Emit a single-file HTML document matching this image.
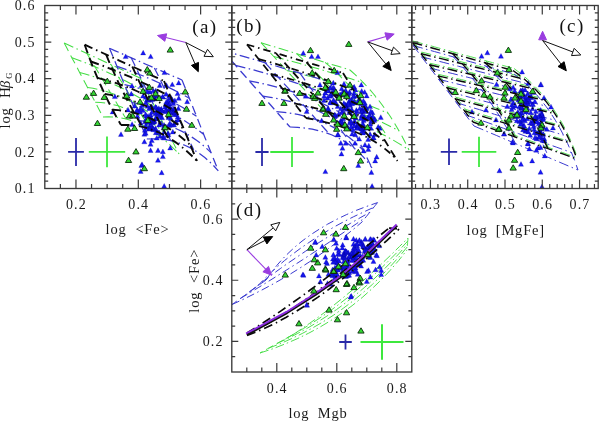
<!DOCTYPE html>
<html><head><meta charset="utf-8"><style>html,body{margin:0;padding:0;background:#fff;overflow:hidden}svg{display:block;filter:blur(0.35px)}</style></head>
<body>
<svg width="600" height="421" viewBox="0 0 600 421">
<defs>
<clipPath id="clipa"><rect x="44.8" y="5.5" width="187.00" height="183.00"/></clipPath>
<clipPath id="clipb"><rect x="231.8" y="5.5" width="180.00" height="183.00"/></clipPath>
<clipPath id="clipc"><rect x="411.8" y="5.5" width="186.40" height="183.00"/></clipPath>
<clipPath id="clipd"><rect x="231.8" y="188.5" width="180.00" height="183.50"/></clipPath>
</defs>
<rect width="600" height="421" fill="#fff"/>
<path d="M64.2 43.0L69.6 45.5L75.0 48.0L80.4 50.5L85.9 53.0L91.3 55.5L96.7 58.0L102.1 60.5L107.5 63.0L112.9 65.5L118.3 68.0L123.8 70.5L129.2 73.0L134.6 75.5L140.0 78.0M72.0 57.8L77.4 59.8L82.8 61.8L88.3 63.9L93.7 66.2L99.1 68.5L104.6 70.9L110.0 73.4L115.4 75.9L120.8 78.6L126.2 81.3L131.6 84.2L137.0 87.1L142.4 90.1L147.8 93.2M79.7 72.6L85.2 74.0L90.7 75.6L96.1 77.4L101.6 79.3L107.0 81.4L112.4 83.7L117.9 86.2L123.3 88.8L128.7 91.7L134.1 94.7L139.5 97.8L144.9 101.2L150.2 104.7L155.6 108.4M87.5 87.4L93.0 88.3L98.5 89.4L104.0 90.8L109.4 92.5L114.9 94.4L120.3 96.6L125.7 99.1L131.2 101.8L136.6 104.7L142.0 108.0L147.3 111.5L152.7 115.3L158.1 119.3L163.4 123.6M95.2 102.2L100.8 102.5L106.3 103.2L111.8 104.3L117.3 105.6L122.7 107.4L128.2 109.5L133.6 111.9L139.0 114.7L144.4 117.8L149.8 121.3L155.2 125.2L160.5 129.4L165.9 133.9L171.2 138.8M103.0 117.0L108.6 116.8L114.1 117.0L119.6 117.7L125.1 118.8L130.6 120.3L136.1 122.3L141.5 124.8L146.9 127.6L152.3 130.9L157.7 134.7L163.1 138.8L168.4 143.4L173.7 148.5L179.0 154.0" stroke="#44dd44" stroke-width="1.05" stroke-dasharray="10 3.5 1.5 3.5" fill="none" clip-path="url(#clipa)"/>
<path d="M64.2 43.0L67.0 48.3L69.7 53.6L72.5 58.9L75.3 64.1L78.1 69.4L80.8 74.7L83.6 80.0L86.4 85.3L89.1 90.6L91.9 95.9L94.7 101.1L97.5 106.4L100.2 111.7L103.0 117.0M86.9 53.5L89.7 58.2L92.6 62.9L95.4 67.6L98.2 72.2L101.0 76.9L103.8 81.6L106.6 86.3L109.4 91.0L112.2 95.7L115.0 100.3L117.8 105.0L120.6 109.7L123.4 114.4L126.2 119.1M111.2 64.7L114.0 69.4L116.8 74.0L119.6 78.7L122.5 83.3L125.3 88.0L128.1 92.6L130.9 97.3L133.7 101.9L136.5 106.6L139.3 111.2L142.1 115.9L145.0 120.5L147.8 125.2L150.6 129.8M140.0 78.0L142.8 83.4L145.6 88.9L148.4 94.3L151.1 99.7L153.9 105.1L156.7 110.6L159.5 116.0L162.3 121.4L165.1 126.9L167.9 132.3L170.6 137.7L173.4 143.1L176.2 148.6L179.0 154.0" stroke="#44dd44" stroke-width="1.05" stroke-dasharray="9 5" fill="none" clip-path="url(#clipa)"/>
<path d="M109.5 48.3L114.7 50.6L119.9 52.8L125.0 55.1L130.2 57.4L135.4 59.6L140.6 61.9L145.8 64.2L150.9 66.4L156.1 68.7L161.3 70.9L166.5 73.2L171.6 75.5L176.8 77.7L182.0 80.0M117.0 66.4L122.3 68.2L127.6 70.0L132.8 72.0L138.1 74.0L143.3 76.0L148.5 78.2L153.7 80.4L158.8 82.7L163.9 85.1L169.1 87.6L174.1 90.1L179.2 92.7L184.2 95.4L189.3 98.2M124.5 84.6L129.9 85.8L135.3 87.3L140.7 88.8L146.0 90.6L151.2 92.4L156.4 94.5L161.6 96.7L166.7 99.0L171.8 101.5L176.8 104.2L181.8 107.0L186.8 109.9L191.7 113.1L196.5 116.3M132.0 102.7L137.6 103.5L143.0 104.5L148.5 105.7L153.8 107.2L159.1 108.9L164.3 110.8L169.5 112.9L174.6 115.3L179.6 117.9L184.6 120.8L189.5 123.9L194.3 127.2L199.1 130.7L203.8 134.5M139.5 120.9L145.2 121.1L150.8 121.7L156.3 122.6L161.7 123.8L167.0 125.3L172.3 127.1L177.4 129.2L182.5 131.6L187.5 134.3L192.3 137.4L197.2 140.7L201.9 144.4L206.5 148.4L211.0 152.6M147.0 139.0L152.8 138.8L158.5 138.9L164.1 139.5L169.6 140.4L174.9 141.7L180.2 143.4L185.3 145.5L190.4 147.9L195.3 150.8L200.1 154.0L204.8 157.6L209.4 161.6L213.9 166.0L218.3 170.8" stroke="#3a3ad0" stroke-width="1.25" stroke-dasharray="10 3.5 1.5 3.5" fill="none" clip-path="url(#clipa)"/>
<path d="M109.5 48.3L112.2 54.8L114.9 61.3L117.5 67.7L120.2 74.2L122.9 80.7L125.6 87.2L128.2 93.7L130.9 100.1L133.6 106.6L136.3 113.1L139.0 119.6L141.6 126.0L144.3 132.5L147.0 139.0M131.2 57.8L134.1 63.7L136.9 69.6L139.7 75.6L142.5 81.5L145.3 87.4L148.1 93.3L150.9 99.2L153.8 105.1L156.6 111.0L159.4 116.9L162.2 122.9L165.0 128.8L167.8 134.7L170.6 140.6M154.4 68.0L157.3 73.8L160.1 79.6L162.9 85.5L165.7 91.3L168.5 97.2L171.3 103.0L174.1 108.9L176.9 114.7L179.7 120.6L182.5 126.4L185.3 132.3L188.1 138.1L190.9 144.0L193.7 149.8M182.0 80.0L184.6 86.5L187.2 93.0L189.8 99.5L192.4 105.9L195.0 112.4L197.6 118.9L200.1 125.4L202.7 131.9L205.3 138.4L207.9 144.9L210.5 151.3L213.1 157.8L215.7 164.3L218.3 170.8" stroke="#3a3ad0" stroke-width="1.25" stroke-dasharray="9 5" fill="none" clip-path="url(#clipa)"/>
<path d="M125.7 53.9l2.5 4.7h-5.1zM143.2 50.2l2.5 4.7h-5.1zM150.7 53.9l2.5 4.7h-5.1zM164.5 69.9l2.5 4.7h-5.1zM178.7 80.2l2.5 4.7h-5.1zM172.3 81.9l2.5 4.7h-5.1zM166.5 82.7l2.5 4.7h-5.1zM159.8 82.7l2.5 4.7h-5.1zM132.0 83.2l2.5 4.7h-5.1zM141.5 82.7l2.5 4.7h-5.1zM114.9 93.9l2.5 4.7h-5.1zM112.7 109.2l2.5 4.7h-5.1zM128.0 107.2l2.5 4.7h-5.1zM134.7 103.2l2.5 4.7h-5.1zM131.3 91.2l2.5 4.7h-5.1zM177.6 90.9l2.5 4.7h-5.1zM178.8 95.6l2.5 4.7h-5.1zM121.0 131.7l2.5 4.7h-5.1zM144.4 139.1l2.5 4.7h-5.1zM150.6 141.6l2.5 4.7h-5.1zM156.8 135.4l2.5 4.7h-5.1zM164.2 135.4l2.5 4.7h-5.1zM150.6 147.8l2.5 4.7h-5.1zM158.0 147.8l2.5 4.7h-5.1zM162.9 149.0l2.5 4.7h-5.1zM170.3 145.3l2.5 4.7h-5.1zM162.9 153.9l2.5 4.7h-5.1zM158.0 157.6l2.5 4.7h-5.1zM142.0 161.8l2.5 4.7h-5.1zM140.7 168.7l2.5 4.7h-5.1zM161.7 170.0l2.5 4.7h-5.1zM164.2 183.5l2.5 4.7h-5.1zM151.8 137.9l2.5 4.7h-5.1zM145.7 130.5l2.5 4.7h-5.1zM164.2 129.2l2.5 4.7h-5.1zM172.8 129.2l2.5 4.7h-5.1zM141.4 162.9l2.5 4.7h-5.1zM162.9 94.4l2.5 4.7h-5.1zM156.8 108.0l2.5 4.7h-5.1zM169.9 120.6l2.5 4.7h-5.1zM169.4 101.2l2.5 4.7h-5.1zM160.6 121.2l2.5 4.7h-5.1zM140.8 120.5l2.5 4.7h-5.1zM172.2 97.0l2.5 4.7h-5.1zM145.6 111.7l2.5 4.7h-5.1zM155.5 111.1l2.5 4.7h-5.1zM142.2 102.7l2.5 4.7h-5.1zM146.4 113.3l2.5 4.7h-5.1zM172.0 106.7l2.5 4.7h-5.1zM156.8 93.4l2.5 4.7h-5.1zM140.0 109.3l2.5 4.7h-5.1zM170.9 115.8l2.5 4.7h-5.1zM173.0 98.9l2.5 4.7h-5.1zM174.2 112.0l2.5 4.7h-5.1zM152.4 117.6l2.5 4.7h-5.1zM160.1 114.1l2.5 4.7h-5.1zM167.5 101.0l2.5 4.7h-5.1zM146.6 118.2l2.5 4.7h-5.1zM169.4 114.5l2.5 4.7h-5.1zM151.9 109.6l2.5 4.7h-5.1zM164.2 122.6l2.5 4.7h-5.1zM156.5 105.0l2.5 4.7h-5.1zM147.7 89.0l2.5 4.7h-5.1zM144.9 127.5l2.5 4.7h-5.1zM178.4 105.8l2.5 4.7h-5.1zM147.0 97.1l2.5 4.7h-5.1zM168.3 132.0l2.5 4.7h-5.1zM169.1 107.2l2.5 4.7h-5.1zM166.1 91.6l2.5 4.7h-5.1zM168.1 130.4l2.5 4.7h-5.1zM160.1 106.9l2.5 4.7h-5.1zM150.2 116.5l2.5 4.7h-5.1zM175.6 119.7l2.5 4.7h-5.1zM177.8 114.2l2.5 4.7h-5.1zM170.2 105.5l2.5 4.7h-5.1zM158.8 105.7l2.5 4.7h-5.1zM154.3 95.3l2.5 4.7h-5.1zM157.9 109.4l2.5 4.7h-5.1zM149.3 105.7l2.5 4.7h-5.1zM162.1 115.1l2.5 4.7h-5.1zM161.4 106.3l2.5 4.7h-5.1zM147.5 119.7l2.5 4.7h-5.1zM178.0 117.3l2.5 4.7h-5.1zM176.0 119.2l2.5 4.7h-5.1zM155.9 130.0l2.5 4.7h-5.1zM155.8 88.2l2.5 4.7h-5.1zM162.4 94.3l2.5 4.7h-5.1zM145.8 122.8l2.5 4.7h-5.1zM143.0 93.4l2.5 4.7h-5.1zM145.6 117.5l2.5 4.7h-5.1zM140.6 105.8l2.5 4.7h-5.1zM165.1 104.4l2.5 4.7h-5.1zM150.7 112.2l2.5 4.7h-5.1zM137.5 113.5l2.5 4.7h-5.1zM148.4 97.4l2.5 4.7h-5.1zM152.2 96.8l2.5 4.7h-5.1zM168.7 122.7l2.5 4.7h-5.1zM149.2 126.4l2.5 4.7h-5.1zM149.4 125.5l2.5 4.7h-5.1zM165.7 109.0l2.5 4.7h-5.1zM169.7 105.6l2.5 4.7h-5.1zM150.6 121.8l2.5 4.7h-5.1zM155.6 115.5l2.5 4.7h-5.1zM154.0 119.3l2.5 4.7h-5.1zM136.9 108.9l2.5 4.7h-5.1zM158.2 129.9l2.5 4.7h-5.1zM160.1 133.5l2.5 4.7h-5.1zM165.5 102.1l2.5 4.7h-5.1zM153.7 94.0l2.5 4.7h-5.1zM166.0 107.0l2.5 4.7h-5.1zM150.1 105.4l2.5 4.7h-5.1zM150.5 123.3l2.5 4.7h-5.1zM149.0 97.5l2.5 4.7h-5.1zM146.4 124.7l2.5 4.7h-5.1zM150.2 113.8l2.5 4.7h-5.1zM159.2 130.1l2.5 4.7h-5.1zM143.0 107.7l2.5 4.7h-5.1zM145.8 100.0l2.5 4.7h-5.1zM171.8 122.4l2.5 4.7h-5.1zM171.2 95.4l2.5 4.7h-5.1zM176.5 111.9l2.5 4.7h-5.1zM167.7 132.5l2.5 4.7h-5.1zM152.7 125.1l2.5 4.7h-5.1zM170.0 110.1l2.5 4.7h-5.1zM168.2 98.1l2.5 4.7h-5.1zM147.5 103.6l2.5 4.7h-5.1zM174.2 108.4l2.5 4.7h-5.1zM145.2 119.0l2.5 4.7h-5.1zM175.9 120.0l2.5 4.7h-5.1zM154.4 118.2l2.5 4.7h-5.1zM166.2 99.6l2.5 4.7h-5.1zM154.9 96.4l2.5 4.7h-5.1zM137.1 107.0l2.5 4.7h-5.1zM174.2 106.2l2.5 4.7h-5.1zM173.3 100.7l2.5 4.7h-5.1zM155.6 127.1l2.5 4.7h-5.1zM155.9 88.7l2.5 4.7h-5.1zM174.9 97.9l2.5 4.7h-5.1zM153.3 125.8l2.5 4.7h-5.1zM163.3 133.7l2.5 4.7h-5.1zM169.2 93.6l2.5 4.7h-5.1zM148.1 113.5l2.5 4.7h-5.1zM174.1 122.4l2.5 4.7h-5.1zM161.7 108.2l2.5 4.7h-5.1zM170.0 109.3l2.5 4.7h-5.1zM149.2 95.9l2.5 4.7h-5.1zM158.3 110.8l2.5 4.7h-5.1zM187.2 99.0l2.5 4.7h-5.1zM165.7 107.9l2.5 4.7h-5.1zM163.6 125.1l2.5 4.7h-5.1zM174.9 110.1l2.5 4.7h-5.1zM153.3 88.1l2.5 4.7h-5.1zM159.1 122.4l2.5 4.7h-5.1zM156.8 114.9l2.5 4.7h-5.1zM168.5 114.9l2.5 4.7h-5.1zM173.0 110.0l2.5 4.7h-5.1zM150.0 89.4l2.5 4.7h-5.1zM171.1 106.3l2.5 4.7h-5.1zM156.3 116.3l2.5 4.7h-5.1zM150.5 126.1l2.5 4.7h-5.1zM168.0 103.2l2.5 4.7h-5.1zM152.4 118.1l2.5 4.7h-5.1zM145.8 94.6l2.5 4.7h-5.1zM160.1 109.7l2.5 4.7h-5.1zM160.2 112.0l2.5 4.7h-5.1zM155.6 104.3l2.5 4.7h-5.1zM175.2 120.1l2.5 4.7h-5.1zM144.4 131.5l2.5 4.7h-5.1zM132.1 121.7l2.5 4.7h-5.1zM153.3 127.0l2.5 4.7h-5.1zM148.9 118.9l2.5 4.7h-5.1zM152.7 120.0l2.5 4.7h-5.1zM151.8 104.0l2.5 4.7h-5.1zM151.1 116.4l2.5 4.7h-5.1zM155.5 125.7l2.5 4.7h-5.1zM153.8 118.8l2.5 4.7h-5.1zM151.5 119.1l2.5 4.7h-5.1z" fill="#1818f4" stroke="#0000a0" stroke-width="0.25" clip-path="url(#clipa)"/>
<path d="M84.7 44.7L90.4 47.3L96.0 49.9L101.7 52.5L107.4 55.1L113.0 57.7L118.7 60.3L124.3 62.9L130.0 65.4L135.7 68.0L141.3 70.6L147.0 73.2L152.7 75.8L158.3 78.4L164.0 81.0M90.8 61.5L96.5 63.5L102.3 65.6L108.0 67.8L113.7 70.0L119.5 72.3L125.2 74.8L130.9 77.2L136.6 79.8L142.3 82.5L148.0 85.2L153.6 88.0L159.3 90.9L165.0 93.9L170.6 97.0M97.4 77.9L103.2 79.4L109.0 81.0L114.8 82.7L120.6 84.7L126.3 86.8L132.0 89.0L137.7 91.5L143.4 94.0L149.1 96.8L154.7 99.7L160.4 102.8L166.0 106.0L171.6 109.4L177.2 113.0M104.7 94.0L110.5 94.9L116.3 96.0L122.1 97.4L127.8 99.1L133.5 101.0L139.2 103.1L144.9 105.5L150.5 108.1L156.1 111.0L161.7 114.1L167.3 117.5L172.8 121.1L178.3 124.9L183.8 129.0M112.6 109.7L118.3 110.1L124.1 110.8L129.8 111.9L135.5 113.2L141.1 114.9L146.7 117.0L152.3 119.3L157.8 122.0L163.3 125.0L168.8 128.4L174.3 132.0L179.7 136.0L185.1 140.4L190.4 145.0M121.0 125.0L126.7 124.9L132.3 125.2L138.0 126.0L143.5 127.1L149.1 128.7L154.6 130.6L160.0 133.0L165.4 135.8L170.8 139.0L176.1 142.6L181.4 146.6L186.6 151.0L191.8 155.8L197.0 161.0" stroke="#0a0a0a" stroke-width="1.9" stroke-dasharray="8.5 4 1.5 4" fill="none" clip-path="url(#clipa)"/>
<path d="M84.7 44.7L86.8 50.7L89.0 56.7L91.2 62.7L93.6 68.6L96.0 74.4L98.4 80.2L101.0 86.0L103.6 91.7L106.3 97.4L109.1 103.0L112.0 108.6L114.9 114.1L117.9 119.6L121.0 125.0M106.1 54.5L108.3 59.9L110.6 65.2L113.0 70.6L115.4 75.9L117.8 81.1L120.3 86.3L122.9 91.5L125.5 96.7L128.1 101.8L130.9 106.9L133.6 111.9L136.5 116.9L139.4 121.9L142.3 126.8M132.3 66.5L134.6 71.6L137.0 76.8L139.3 81.9L141.8 87.0L144.2 92.1L146.7 97.2L149.2 102.2L151.7 107.2L154.3 112.2L156.9 117.2L159.5 122.2L162.2 127.2L164.8 132.1L167.6 137.0M164.0 81.0L166.4 86.7L168.7 92.4L171.1 98.1L173.4 103.9L175.8 109.6L178.1 115.3L180.5 121.0L182.9 126.7L185.2 132.4L187.6 138.1L189.9 143.9L192.3 149.6L194.6 155.3L197.0 161.0" stroke="#0a0a0a" stroke-width="1.9" stroke-dasharray="9 5" fill="none" clip-path="url(#clipa)"/>
<path d="M170.3 46.8l3.1 5.3h-6.3zM147.3 66.5l3.1 5.3h-6.3zM149.8 69.8l3.1 5.3h-6.3zM107.3 78.1l3.1 5.3h-6.3zM149.3 84.1l3.1 5.3h-6.3zM143.1 88.1l3.1 5.3h-6.3zM93.6 90.1l3.1 5.3h-6.3zM155.6 90.5l3.1 5.3h-6.3zM86.4 93.9l3.1 5.3h-6.3zM104.3 94.1l3.1 5.3h-6.3zM126.7 92.8l3.1 5.3h-6.3zM151.4 94.6l3.1 5.3h-6.3zM159.1 95.2l3.1 5.3h-6.3zM140.1 98.8l3.1 5.3h-6.3zM185.3 88.7l3.1 5.3h-6.3zM186.5 105.9l3.1 5.3h-6.3zM168.6 111.3l3.1 5.3h-6.3zM129.5 112.8l3.1 5.3h-6.3zM132.7 112.8l3.1 5.3h-6.3zM147.8 117.2l3.1 5.3h-6.3zM97.5 120.2l3.1 5.3h-6.3zM191.8 122.0l3.1 5.3h-6.3zM165.1 124.4l3.1 5.3h-6.3zM134.6 125.2l3.1 5.3h-6.3zM127.9 125.9l3.1 5.3h-6.3zM136.0 148.6l3.1 5.3h-6.3zM128.6 157.2l3.1 5.3h-6.3zM144.4 165.4l3.1 5.3h-6.3z" fill="#33d633" stroke="#0b2a0b" stroke-width="0.9" stroke-linejoin="miter" clip-path="url(#clipa)"/>
<path d="M68.1 151.9h15.8M76.0 137.9v28.0" stroke="#2a2aa8" stroke-width="1.8" fill="none"/>
<path d="M88.8 151.9h36.4M107.0 136.6v30.6" stroke="#3ee83e" stroke-width="1.8" fill="none"/>
<path d="M185.8 42.5L165.8 37.5" stroke="#9a3de0" stroke-width="1.1"/>
<path d="M157.5 35.5L166.7 33.8L164.8 41.3z" fill="#9a3de0" stroke="#9a3de0" stroke-width="1"/>
<path d="M185.8 42.5L205.7 52.8" stroke="#111" stroke-width="1"/>
<path d="M213.3 56.7L204.0 56.3L207.5 49.3z" fill="#fff" stroke="#111" stroke-width="1"/>
<path d="M185.8 42.5L195.0 63.9" stroke="#111" stroke-width="1"/>
<path d="M198.3 71.7L191.4 65.4L198.5 62.4z" fill="#000" stroke="#000" stroke-width="1"/>
<path d="M261.0 42.7L267.4 44.7L273.7 46.6L280.1 48.6L286.4 50.5L292.8 52.4L299.1 54.4L305.5 56.4L311.9 58.3L318.2 60.2L324.6 62.2L330.9 64.2L337.3 66.1L343.6 68.0L350.0 70.0M273.8 56.6L280.3 58.3L286.9 60.0L293.4 61.8L299.9 63.6L306.3 65.4L312.8 67.2L319.2 69.1L325.6 71.0L332.0 72.9L338.3 74.8L344.7 76.8L351.0 78.8L357.3 80.8L363.6 82.8M286.6 70.4L293.3 72.0L299.9 73.7L306.5 75.4L313.0 77.1L319.5 78.9L326.0 80.7L332.4 82.6L338.8 84.5L345.1 86.5L351.4 88.6L357.7 90.7L363.9 92.8L370.1 95.0L376.2 97.2M299.4 84.3L306.1 85.9L312.8 87.5L319.4 89.3L326.0 91.1L332.4 93.0L338.9 94.9L345.2 96.9L351.5 99.0L357.8 101.2L363.9 103.5L370.1 105.8L376.1 108.2L382.1 110.7L388.0 113.2M312.2 98.1L318.9 99.8L325.6 101.6L332.1 103.5L338.6 105.5L345.0 107.6L351.3 109.8L357.6 112.1L363.7 114.5L369.8 116.9L375.8 119.5L381.7 122.2L387.5 125.0L393.3 127.8L399.0 130.8M325.0 112.0L331.7 113.9L338.2 116.0L344.7 118.1L351.0 120.4L357.3 122.8L363.4 125.3L369.5 128.0L375.4 130.8L381.3 133.7L387.0 136.7L392.7 139.8L398.2 143.1L403.7 146.5L409.0 150.0" stroke="#44dd44" stroke-width="1.05" stroke-dasharray="10 3.5 1.5 3.5" fill="none" clip-path="url(#clipb)"/>
<path d="M261.0 42.7L265.6 47.7L270.1 52.6L274.7 57.5L279.3 62.5L283.9 67.5L288.4 72.4L293.0 77.3L297.6 82.3L302.1 87.2L306.7 92.2L311.3 97.2L315.9 102.1L320.4 107.0L325.0 112.0M296.6 53.6L301.5 58.1L306.3 62.7L311.1 67.4L315.9 72.2L320.6 77.0L325.3 82.0L329.9 87.0L334.5 92.1L339.0 97.2L343.5 102.5L347.9 107.8L352.3 113.2L356.7 118.7L361.0 124.3M325.1 62.4L330.1 66.7L335.0 71.2L339.8 75.9L344.5 80.7L349.2 85.7L353.8 90.8L358.3 96.0L362.7 101.4L367.0 107.0L371.3 112.7L375.5 118.5L379.5 124.5L383.6 130.7L387.5 136.9M350.0 70.0L354.9 74.4L359.8 79.0L364.5 83.8L369.1 88.8L373.6 94.0L378.0 99.4L382.2 105.0L386.4 110.8L390.5 116.8L394.4 123.1L398.2 129.5L401.9 136.1L405.5 143.0L409.0 150.0" stroke="#44dd44" stroke-width="1.05" stroke-dasharray="9 5" fill="none" clip-path="url(#clipb)"/>
<path d="M222.0 50.0L229.7 52.3L237.4 54.6L245.1 56.9L252.9 59.1L260.6 61.4L268.3 63.7L276.0 66.0L283.7 68.3L291.4 70.6L299.1 72.9L306.9 75.1L314.6 77.4L322.3 79.7L330.0 82.0M235.6 65.4L243.3 67.3L251.0 69.3L258.6 71.3L266.1 73.5L273.6 75.7L281.0 78.0L288.4 80.4L295.7 82.8L303.0 85.3L310.2 88.0L317.3 90.6L324.4 93.4L331.4 96.3L338.4 99.2M249.2 80.8L256.9 82.3L264.5 84.0L272.0 85.8L279.4 87.8L286.6 89.9L293.8 92.2L300.8 94.7L307.7 97.3L314.5 100.1L321.2 103.0L327.8 106.1L334.2 109.4L340.6 112.8L346.8 116.4M262.8 96.2L270.5 97.3L278.1 98.7L285.4 100.3L292.6 102.1L299.7 104.2L306.5 106.5L313.2 109.0L319.7 111.8L326.1 114.9L332.2 118.1L338.2 121.6L344.1 125.4L349.7 129.4L355.2 133.6M276.4 111.6L284.1 112.3L291.6 113.4L298.9 114.7L305.9 116.4L312.7 118.4L319.3 120.8L325.6 123.4L331.7 126.4L337.6 129.6L343.3 133.2L348.7 137.1L353.9 141.4L358.9 145.9L363.6 150.8M290.0 127.0L297.7 127.3L305.1 128.1L312.3 129.2L319.1 130.8L325.7 132.7L332.0 135.0L338.0 137.8L343.7 140.9L349.1 144.4L354.3 148.3L359.1 152.6L363.7 157.4L368.0 162.5L372.0 168.0" stroke="#3a3ad0" stroke-width="1.25" stroke-dasharray="10 3.5 1.5 3.5" fill="none" clip-path="url(#clipb)"/>
<path d="M222.0 50.0L226.9 55.5L231.7 61.0L236.6 66.5L241.4 72.0L246.3 77.5L251.1 83.0L256.0 88.5L260.9 94.0L265.7 99.5L270.6 105.0L275.4 110.5L280.3 116.0L285.1 121.5L290.0 127.0M265.2 62.8L269.8 67.9L274.4 73.0L279.0 78.1L283.6 83.2L288.2 88.2L292.8 93.3L297.4 98.4L302.0 103.5L306.5 108.6L311.1 113.7L315.7 118.8L320.3 123.9L324.9 129.0L329.5 134.0M299.8 73.0L303.7 78.4L307.6 83.8L311.5 89.2L315.5 94.6L319.4 100.0L323.3 105.4L327.2 110.8L331.1 116.3L335.1 121.7L339.0 127.1L342.9 132.5L346.8 137.9L350.8 143.3L354.7 148.7M330.0 82.0L333.0 88.1L336.0 94.3L339.0 100.4L342.0 106.6L345.0 112.7L348.0 118.9L351.0 125.0L354.0 131.1L357.0 137.3L360.0 143.4L363.0 149.6L366.0 155.7L369.0 161.9L372.0 168.0" stroke="#3a3ad0" stroke-width="1.25" stroke-dasharray="9 5" fill="none" clip-path="url(#clipb)"/>
<path d="M303.3 50.5l2.5 4.7h-5.1zM311.7 53.9l2.5 4.7h-5.1zM318.0 53.9l2.5 4.7h-5.1zM337.5 69.9l2.5 4.7h-5.1zM361.3 82.2l2.5 4.7h-5.1zM320.0 82.2l2.5 4.7h-5.1zM333.3 80.2l2.5 4.7h-5.1zM353.3 85.2l2.5 4.7h-5.1zM361.7 88.5l2.5 4.7h-5.1zM328.3 88.2l2.5 4.7h-5.1zM341.7 86.0l2.5 4.7h-5.1zM305.8 93.5l2.5 4.7h-5.1zM324.2 93.5l2.5 4.7h-5.1zM306.7 108.9l2.5 4.7h-5.1zM321.7 118.0l2.5 4.7h-5.1zM338.3 132.2l2.5 4.7h-5.1zM340.8 140.5l2.5 4.7h-5.1zM345.8 140.5l2.5 4.7h-5.1zM342.5 145.5l2.5 4.7h-5.1zM355.0 140.5l2.5 4.7h-5.1zM359.2 136.4l2.5 4.7h-5.1zM365.0 142.2l2.5 4.7h-5.1zM373.3 134.7l2.5 4.7h-5.1zM380.8 114.7l2.5 4.7h-5.1zM371.7 116.4l2.5 4.7h-5.1zM380.0 125.5l2.5 4.7h-5.1zM370.0 103.9l2.5 4.7h-5.1zM337.6 132.1l2.5 4.7h-5.1zM341.5 151.3l2.5 4.7h-5.1zM363.7 148.2l2.5 4.7h-5.1zM368.3 146.7l2.5 4.7h-5.1zM376.7 154.3l2.5 4.7h-5.1zM375.2 158.2l2.5 4.7h-5.1zM358.3 162.8l2.5 4.7h-5.1zM325.4 168.9l2.5 4.7h-5.1zM371.4 169.7l2.5 4.7h-5.1zM372.1 183.5l2.5 4.7h-5.1zM352.2 131.3l2.5 4.7h-5.1zM355.3 132.1l2.5 4.7h-5.1zM362.2 128.2l2.5 4.7h-5.1zM373.7 135.2l2.5 4.7h-5.1zM361.5 126.3l2.5 4.7h-5.1zM362.3 108.5l2.5 4.7h-5.1zM352.9 114.1l2.5 4.7h-5.1zM361.1 101.1l2.5 4.7h-5.1zM348.8 101.7l2.5 4.7h-5.1zM371.0 125.5l2.5 4.7h-5.1zM352.2 98.9l2.5 4.7h-5.1zM352.1 101.0l2.5 4.7h-5.1zM335.9 113.1l2.5 4.7h-5.1zM350.0 109.8l2.5 4.7h-5.1zM349.1 90.8l2.5 4.7h-5.1zM340.1 120.9l2.5 4.7h-5.1zM365.2 105.3l2.5 4.7h-5.1zM363.0 130.2l2.5 4.7h-5.1zM352.9 127.0l2.5 4.7h-5.1zM356.8 125.0l2.5 4.7h-5.1zM357.9 122.6l2.5 4.7h-5.1zM347.5 106.5l2.5 4.7h-5.1zM340.6 118.2l2.5 4.7h-5.1zM343.1 116.1l2.5 4.7h-5.1zM334.8 111.9l2.5 4.7h-5.1zM370.3 121.4l2.5 4.7h-5.1zM344.5 121.0l2.5 4.7h-5.1zM361.2 115.4l2.5 4.7h-5.1zM340.1 91.9l2.5 4.7h-5.1zM366.7 105.9l2.5 4.7h-5.1zM374.8 116.5l2.5 4.7h-5.1zM374.1 117.8l2.5 4.7h-5.1zM349.8 107.8l2.5 4.7h-5.1zM355.6 115.3l2.5 4.7h-5.1zM346.9 92.2l2.5 4.7h-5.1zM341.5 119.3l2.5 4.7h-5.1zM364.9 100.5l2.5 4.7h-5.1zM360.9 125.5l2.5 4.7h-5.1zM362.2 106.9l2.5 4.7h-5.1zM328.8 106.8l2.5 4.7h-5.1zM330.3 92.7l2.5 4.7h-5.1zM372.6 113.9l2.5 4.7h-5.1zM327.9 106.3l2.5 4.7h-5.1zM341.7 110.1l2.5 4.7h-5.1zM330.0 85.6l2.5 4.7h-5.1zM330.4 99.3l2.5 4.7h-5.1zM372.5 110.0l2.5 4.7h-5.1zM330.5 100.2l2.5 4.7h-5.1zM354.0 90.6l2.5 4.7h-5.1zM330.6 85.3l2.5 4.7h-5.1zM350.6 118.1l2.5 4.7h-5.1zM334.5 88.1l2.5 4.7h-5.1zM328.2 87.9l2.5 4.7h-5.1zM358.0 123.8l2.5 4.7h-5.1zM364.3 129.4l2.5 4.7h-5.1zM363.4 126.5l2.5 4.7h-5.1zM354.4 98.8l2.5 4.7h-5.1zM361.7 108.4l2.5 4.7h-5.1zM331.6 90.6l2.5 4.7h-5.1zM356.4 107.6l2.5 4.7h-5.1zM358.2 98.2l2.5 4.7h-5.1zM356.9 109.1l2.5 4.7h-5.1zM325.2 90.3l2.5 4.7h-5.1zM327.4 95.4l2.5 4.7h-5.1zM340.3 120.4l2.5 4.7h-5.1zM338.1 95.5l2.5 4.7h-5.1zM335.9 100.1l2.5 4.7h-5.1zM349.8 120.0l2.5 4.7h-5.1zM365.3 108.7l2.5 4.7h-5.1zM345.7 104.9l2.5 4.7h-5.1zM353.7 93.3l2.5 4.7h-5.1zM366.4 108.8l2.5 4.7h-5.1zM342.8 89.4l2.5 4.7h-5.1zM351.8 107.0l2.5 4.7h-5.1zM337.7 103.7l2.5 4.7h-5.1zM327.4 107.1l2.5 4.7h-5.1zM346.5 105.0l2.5 4.7h-5.1zM363.4 98.3l2.5 4.7h-5.1zM345.5 104.7l2.5 4.7h-5.1zM367.6 115.1l2.5 4.7h-5.1zM342.1 119.2l2.5 4.7h-5.1zM359.8 105.8l2.5 4.7h-5.1zM334.6 86.8l2.5 4.7h-5.1zM363.0 124.8l2.5 4.7h-5.1zM327.4 87.4l2.5 4.7h-5.1zM345.9 103.4l2.5 4.7h-5.1zM333.9 98.4l2.5 4.7h-5.1zM333.7 85.1l2.5 4.7h-5.1zM334.7 114.0l2.5 4.7h-5.1zM324.0 97.8l2.5 4.7h-5.1zM333.5 97.4l2.5 4.7h-5.1zM345.5 102.1l2.5 4.7h-5.1zM364.6 114.0l2.5 4.7h-5.1zM347.3 124.9l2.5 4.7h-5.1zM352.0 120.7l2.5 4.7h-5.1zM361.0 115.7l2.5 4.7h-5.1zM343.9 100.6l2.5 4.7h-5.1zM369.4 112.4l2.5 4.7h-5.1zM351.8 107.6l2.5 4.7h-5.1zM345.7 92.2l2.5 4.7h-5.1zM354.5 100.3l2.5 4.7h-5.1zM342.7 109.2l2.5 4.7h-5.1zM368.7 125.5l2.5 4.7h-5.1zM334.5 91.5l2.5 4.7h-5.1zM365.0 102.9l2.5 4.7h-5.1zM345.7 92.2l2.5 4.7h-5.1zM354.6 118.5l2.5 4.7h-5.1zM346.5 105.5l2.5 4.7h-5.1zM330.2 93.5l2.5 4.7h-5.1zM369.6 113.7l2.5 4.7h-5.1zM362.9 121.1l2.5 4.7h-5.1zM350.2 102.8l2.5 4.7h-5.1zM361.7 108.7l2.5 4.7h-5.1zM348.8 100.3l2.5 4.7h-5.1zM371.2 118.5l2.5 4.7h-5.1zM346.5 105.5l2.5 4.7h-5.1zM349.5 109.8l2.5 4.7h-5.1zM333.2 91.6l2.5 4.7h-5.1zM357.6 122.1l2.5 4.7h-5.1zM340.9 106.1l2.5 4.7h-5.1zM345.6 87.6l2.5 4.7h-5.1zM348.6 99.2l2.5 4.7h-5.1zM361.6 112.7l2.5 4.7h-5.1zM351.6 97.3l2.5 4.7h-5.1zM353.6 94.0l2.5 4.7h-5.1zM354.4 123.2l2.5 4.7h-5.1zM338.6 111.5l2.5 4.7h-5.1zM367.5 115.5l2.5 4.7h-5.1zM364.3 116.5l2.5 4.7h-5.1zM346.5 90.3l2.5 4.7h-5.1zM340.1 91.9l2.5 4.7h-5.1zM378.2 124.3l2.5 4.7h-5.1zM350.1 97.6l2.5 4.7h-5.1zM370.9 108.7l2.5 4.7h-5.1zM374.9 131.9l2.5 4.7h-5.1zM363.6 117.9l2.5 4.7h-5.1zM362.6 112.6l2.5 4.7h-5.1zM368.2 136.7l2.5 4.7h-5.1zM370.1 131.6l2.5 4.7h-5.1zM357.4 125.6l2.5 4.7h-5.1zM354.8 119.6l2.5 4.7h-5.1zM368.8 143.2l2.5 4.7h-5.1zM363.6 123.5l2.5 4.7h-5.1zM347.8 124.6l2.5 4.7h-5.1zM355.7 111.9l2.5 4.7h-5.1zM351.1 124.3l2.5 4.7h-5.1zM348.0 92.6l2.5 4.7h-5.1zM349.6 89.2l2.5 4.7h-5.1zM366.7 93.2l2.5 4.7h-5.1zM359.7 96.6l2.5 4.7h-5.1zM354.2 84.2l2.5 4.7h-5.1zM344.0 81.3l2.5 4.7h-5.1zM355.5 87.2l2.5 4.7h-5.1zM357.1 93.4l2.5 4.7h-5.1zM343.8 90.1l2.5 4.7h-5.1zM364.7 89.6l2.5 4.7h-5.1z" fill="#1818f4" stroke="#0000a0" stroke-width="0.25" clip-path="url(#clipb)"/>
<path d="M247.0 44.5L253.9 46.5L260.7 48.6L267.6 50.6L274.4 52.6L281.3 54.7L288.1 56.7L295.0 58.8L301.9 60.8L308.7 62.8L315.6 64.9L322.4 66.9L329.3 68.9L336.1 71.0L343.0 73.0M258.8 59.2L266.1 61.2L273.4 63.2L280.5 65.3L287.6 67.4L294.6 69.5L301.5 71.7L308.4 74.0L315.1 76.2L321.8 78.5L328.4 80.9L334.9 83.2L341.3 85.6L347.6 88.1L353.9 90.6M270.6 73.9L278.4 75.8L286.0 77.9L293.5 80.0L300.8 82.1L308.0 84.4L314.9 86.7L321.8 89.2L328.4 91.6L334.9 94.2L341.2 96.8L347.3 99.6L353.3 102.4L359.1 105.2L364.8 108.2M282.4 88.6L290.7 90.5L298.7 92.5L306.5 94.7L314.0 96.9L321.3 99.3L328.3 101.8L335.1 104.3L341.7 107.1L348.0 109.9L354.0 112.8L359.8 115.9L365.3 119.1L370.6 122.4L375.7 125.8M294.2 103.3L302.9 105.2L311.4 107.2L319.5 109.3L327.2 111.7L334.6 114.1L341.7 116.8L348.5 119.6L354.9 122.5L361.0 125.6L366.8 128.8L372.3 132.2L377.4 135.8L382.1 139.5L386.6 143.4M306.0 118.0L315.2 119.8L324.0 121.8L332.4 124.0L340.4 126.4L348.0 129.0L355.1 131.8L361.9 134.8L368.2 137.9L374.1 141.3L379.6 144.8L384.7 148.6L389.4 152.5L393.7 156.7L397.5 161.0" stroke="#0a0a0a" stroke-width="1.8" stroke-dasharray="7.5 4 1.5 4" fill="none" clip-path="url(#clipb)"/>
<path d="M247.0 44.5L251.2 49.8L255.4 55.0L259.6 60.2L263.9 65.5L268.1 70.8L272.3 76.0L276.5 81.2L280.7 86.5L284.9 91.8L289.1 97.0L293.4 102.2L297.6 107.5L301.8 112.8L306.0 118.0M275.8 53.0L280.5 58.3L285.3 63.6L290.0 68.9L294.7 74.2L299.4 79.4L304.2 84.7L308.9 90.0L313.6 95.3L318.3 100.5L323.1 105.8L327.8 111.1L332.5 116.4L337.2 121.6L342.0 126.9M306.5 62.2L311.2 67.7L315.9 73.3L320.6 78.9L325.3 84.5L330.0 90.0L334.7 95.6L339.4 101.2L344.1 106.7L348.8 112.3L353.5 117.9L358.2 123.5L362.9 129.0L367.6 134.6L372.3 140.2M343.0 73.0L346.9 79.3L350.8 85.6L354.7 91.9L358.6 98.1L362.5 104.4L366.4 110.7L370.2 117.0L374.1 123.3L378.0 129.6L381.9 135.9L385.8 142.1L389.7 148.4L393.6 154.7L397.5 161.0" stroke="#0a0a0a" stroke-width="1.8" stroke-dasharray="8 5" fill="none" clip-path="url(#clipb)"/>
<path d="M348.8 41.1l3.1 5.3h-6.3zM310.5 47.3l3.1 5.3h-6.3zM334.2 67.3l3.1 5.3h-6.3zM312.2 69.8l3.1 5.3h-6.3zM328.3 78.1l3.1 5.3h-6.3zM325.3 84.5l3.1 5.3h-6.3zM350.0 81.8l3.1 5.3h-6.3zM285.0 87.8l3.1 5.3h-6.3zM299.7 90.1l3.1 5.3h-6.3zM318.0 89.8l3.1 5.3h-6.3zM335.8 89.0l3.1 5.3h-6.3zM344.2 90.6l3.1 5.3h-6.3zM360.8 92.3l3.1 5.3h-6.3zM346.7 93.1l3.1 5.3h-6.3zM313.3 93.1l3.1 5.3h-6.3zM314.7 95.1l3.1 5.3h-6.3zM339.2 94.8l3.1 5.3h-6.3zM360.0 99.3l3.1 5.3h-6.3zM323.3 106.0l3.1 5.3h-6.3zM325.8 111.0l3.1 5.3h-6.3zM344.2 112.6l3.1 5.3h-6.3zM354.2 113.1l3.1 5.3h-6.3zM333.7 116.8l3.1 5.3h-6.3zM337.5 121.0l3.1 5.3h-6.3zM345.0 121.8l3.1 5.3h-6.3zM336.7 126.0l3.1 5.3h-6.3zM367.5 124.3l3.1 5.3h-6.3zM346.8 125.6l3.1 5.3h-6.3zM358.3 149.3l3.1 5.3h-6.3zM360.6 157.8l3.1 5.3h-6.3zM343.8 165.4l3.1 5.3h-6.3zM262.0 100.1l3.1 5.3h-6.3zM284.0 100.1l3.1 5.3h-6.3zM285.0 87.8l3.1 5.3h-6.3zM322.8 105.6l3.1 5.3h-6.3z" fill="#33d633" stroke="#0b2a0b" stroke-width="0.9" stroke-linejoin="miter" clip-path="url(#clipb)"/>
<path d="M255.4 152.0h13.2M262.0 138.0v28.0" stroke="#2a2aa8" stroke-width="1.8" fill="none"/>
<path d="M270.3 152.0h43.4M292.0 137.0v30.0" stroke="#3ee83e" stroke-width="1.8" fill="none"/>
<path d="M367.7 41.9L386.0 36.5" stroke="#9a3de0" stroke-width="1.1"/>
<path d="M394.2 34.1L387.1 40.2L384.9 32.8z" fill="#9a3de0" stroke="#9a3de0" stroke-width="1"/>
<path d="M367.7 41.9L392.2 50.7" stroke="#111" stroke-width="1"/>
<path d="M400.2 53.6L390.9 54.4L393.5 47.1z" fill="#fff" stroke="#111" stroke-width="1"/>
<path d="M367.7 41.9L385.8 63.9" stroke="#111" stroke-width="1"/>
<path d="M391.2 70.5L382.8 66.4L388.8 61.5z" fill="#000" stroke="#000" stroke-width="1"/>
<path d="M413.0 41.0L420.2 43.0L427.4 44.9L434.6 46.9L441.9 48.9L449.1 50.8L456.3 52.8L463.5 54.8L470.7 56.7L477.9 58.7L485.1 60.6L492.4 62.6L499.6 64.6L506.8 66.5L514.0 68.5M421.5 52.1L429.0 53.9L436.4 55.8L443.8 57.6L451.3 59.4L458.7 61.2L466.1 63.0L473.6 64.9L481.0 66.7L488.4 68.5L495.9 70.3L503.3 72.1L510.7 74.0L518.2 75.8L525.6 77.6M430.1 63.3L437.7 65.0L445.3 66.8L452.8 68.5L460.4 70.3L468.0 72.0L475.6 73.8L483.2 75.5L490.8 77.3L498.4 79.0L506.0 80.8L513.6 82.6L521.1 84.3L528.7 86.1L536.3 87.8M438.6 74.4L446.3 76.2L454.0 77.9L461.7 79.7L469.3 81.5L477.0 83.2L484.7 85.0L492.4 86.8L500.1 88.5L507.8 90.3L515.4 92.1L523.1 93.8L530.8 95.6L538.5 97.4L546.2 99.1M447.8 86.3L455.5 88.2L463.2 90.1L470.9 91.9L478.6 93.8L486.3 95.7L494.0 97.5L501.8 99.4L509.5 101.3L517.2 103.2L524.9 105.0L532.6 106.9L540.3 108.8L548.0 110.7L555.7 112.5M456.3 97.4L464.0 99.5L471.7 101.5L479.3 103.6L487.0 105.7L494.7 107.7L502.4 109.8L510.0 111.8L517.7 113.9L525.4 115.9L533.1 118.0L540.7 120.0L548.4 122.1L556.1 124.1L563.8 126.2M465.5 109.4L473.0 111.7L480.6 114.0L488.2 116.4L495.7 118.7L503.3 121.0L510.9 123.4L518.4 125.7L526.0 128.0L533.6 130.4L541.1 132.7L548.7 135.0L556.3 137.4L563.8 139.7L571.4 142.0M474.0 120.5L481.4 123.2L488.8 125.9L496.2 128.5L503.6 131.2L511.0 133.9L518.4 136.6L525.8 139.2L533.2 141.9L540.6 144.6L548.0 147.3L555.4 150.0L562.8 152.6L570.2 155.3L577.6 158.0" stroke="#44dd44" stroke-width="0.9" stroke-dasharray="10 3.5 1.5 3.5" fill="none" clip-path="url(#clipc)"/>
<path d="M413.0 41.0L417.4 46.7L421.7 52.4L426.1 58.0L430.4 63.7L434.8 69.4L439.1 75.1L443.5 80.8L447.9 86.4L452.2 92.1L456.6 97.8L460.9 103.5L465.3 109.1L469.6 114.8L474.0 120.5M453.4 52.0L458.4 57.2L463.4 62.5L468.2 68.0L473.0 73.5L477.6 79.2L482.2 85.0L486.7 90.9L491.0 96.9L495.3 103.1L499.5 109.3L503.7 115.7L507.7 122.2L511.6 128.8L515.4 135.5M485.7 60.8L491.3 65.6L496.7 70.7L501.9 75.9L507.0 81.4L511.9 87.1L516.6 92.9L521.2 99.0L525.6 105.3L529.8 111.8L533.9 118.5L537.8 125.5L541.6 132.6L545.2 139.9L548.6 147.5M514.0 68.5L520.0 73.0L525.8 77.8L531.4 82.9L536.7 88.3L541.9 93.9L546.7 99.9L551.4 106.1L555.8 112.7L560.0 119.5L564.0 126.6L567.7 134.0L571.3 141.7L574.5 149.7L577.6 158.0" stroke="#44dd44" stroke-width="0.9" stroke-dasharray="9 5" fill="none" clip-path="url(#clipc)"/>
<path d="M413.0 45.5L420.2 47.5L427.4 49.6L434.6 51.6L441.9 53.6L449.1 55.7L456.3 57.7L463.5 59.8L470.7 61.8L477.9 63.8L485.1 65.9L492.4 67.9L499.6 69.9L506.8 72.0L514.0 74.0M421.5 56.8L429.0 58.7L436.4 60.6L443.8 62.5L451.2 64.4L458.6 66.3L466.0 68.2L473.5 70.1L480.9 72.0L488.3 73.9L495.7 75.8L503.1 77.7L510.5 79.5L518.0 81.4L525.4 83.3M430.1 68.0L437.6 69.9L445.2 71.8L452.8 73.6L460.3 75.5L467.9 77.3L475.5 79.2L483.0 81.0L490.6 82.9L498.1 84.7L505.7 86.6L513.3 88.5L520.8 90.3L528.4 92.2L536.0 94.0M438.6 79.3L446.3 81.2L453.9 83.1L461.6 85.0L469.2 86.9L476.9 88.9L484.5 90.8L492.2 92.7L499.8 94.6L507.5 96.5L515.1 98.4L522.8 100.3L530.4 102.2L538.1 104.1L545.8 106.0M447.8 91.4L455.5 93.5L463.1 95.5L470.8 97.6L478.5 99.7L486.2 101.7L493.9 103.8L501.6 105.9L509.3 108.0L516.9 110.0L524.6 112.1L532.3 114.2L540.0 116.2L547.7 118.3L555.4 120.4M456.3 102.7L464.0 105.0L471.6 107.3L479.3 109.6L487.0 111.9L494.6 114.3L502.3 116.6L509.9 118.9L517.6 121.2L525.3 123.6L532.9 125.9L540.6 128.2L548.2 130.5L555.9 132.8L563.6 135.2M465.5 114.7L473.0 117.4L480.6 120.1L488.2 122.8L495.7 125.5L503.3 128.2L510.9 130.9L518.5 133.6L526.0 136.3L533.6 139.0L541.2 141.7L548.7 144.4L556.3 147.1L563.9 149.8L571.4 152.5M474.0 126.0L481.4 129.1L488.9 132.3L496.3 135.4L503.7 138.6L511.1 141.7L518.6 144.9L526.0 148.0L533.4 151.1L540.9 154.3L548.3 157.4L555.7 160.6L563.1 163.7L570.6 166.9L578.0 170.0" stroke="#3a3ad0" stroke-width="1.0" stroke-dasharray="10 3.5 1.5 3.5" fill="none" clip-path="url(#clipc)"/>
<path d="M413.0 45.5L417.4 51.2L421.7 57.0L426.1 62.8L430.4 68.5L434.8 74.2L439.1 80.0L443.5 85.8L447.9 91.5L452.2 97.2L456.6 103.0L460.9 108.8L465.3 114.5L469.6 120.2L474.0 126.0M453.4 56.9L458.4 62.2L463.3 67.6L468.1 73.2L472.8 78.9L477.5 84.7L482.0 90.7L486.5 96.8L490.9 103.1L495.2 109.5L499.5 116.1L503.6 122.7L507.7 129.5L511.7 136.5L515.6 143.6M485.7 66.0L491.2 70.9L496.5 76.1L501.7 81.5L506.7 87.2L511.6 93.1L516.3 99.3L520.9 105.7L525.3 112.4L529.6 119.3L533.8 126.5L537.8 133.9L541.6 141.6L545.3 149.5L548.9 157.7M514.0 74.0L519.9 78.6L525.6 83.6L531.1 88.8L536.4 94.5L541.4 100.5L546.3 106.8L551.0 113.5L555.5 120.5L559.7 127.9L563.8 135.6L567.7 143.7L571.3 152.1L574.8 160.9L578.0 170.0" stroke="#3a3ad0" stroke-width="1.0" stroke-dasharray="9 5" fill="none" clip-path="url(#clipc)"/>
<path d="M481.6 53.5l2.5 4.7h-5.1zM487.4 50.1l2.5 4.7h-5.1zM501.0 53.5l2.5 4.7h-5.1zM522.1 69.3l2.5 4.7h-5.1zM540.8 81.7l2.5 4.7h-5.1zM528.2 80.6l2.5 4.7h-5.1zM496.6 81.7l2.5 4.7h-5.1zM541.0 82.2l2.5 4.7h-5.1zM544.0 95.2l2.5 4.7h-5.1zM551.0 104.2l2.5 4.7h-5.1zM486.0 107.2l2.5 4.7h-5.1zM472.0 109.2l2.5 4.7h-5.1zM496.0 117.2l2.5 4.7h-5.1zM504.0 131.2l2.5 4.7h-5.1zM513.0 140.2l2.5 4.7h-5.1zM528.0 141.2l2.5 4.7h-5.1zM538.0 145.2l2.5 4.7h-5.1zM553.0 125.2l2.5 4.7h-5.1zM499.5 168.1l2.5 4.7h-5.1zM540.6 169.5l2.5 4.7h-5.1zM542.0 184.0l2.5 4.7h-5.1zM532.2 158.2l2.5 4.7h-5.1zM521.0 161.6l2.5 4.7h-5.1zM544.8 153.2l2.5 4.7h-5.1zM536.4 147.6l2.5 4.7h-5.1zM529.4 146.2l2.5 4.7h-5.1zM528.0 140.6l2.5 4.7h-5.1zM540.6 144.8l2.5 4.7h-5.1zM512.6 139.2l2.5 4.7h-5.1zM504.2 131.4l2.5 4.7h-5.1zM535.0 135.0l2.5 4.7h-5.1zM518.6 97.2l2.5 4.7h-5.1zM521.5 105.3l2.5 4.7h-5.1zM541.8 112.5l2.5 4.7h-5.1zM526.3 94.4l2.5 4.7h-5.1zM544.5 138.3l2.5 4.7h-5.1zM539.3 129.5l2.5 4.7h-5.1zM540.3 114.3l2.5 4.7h-5.1zM524.0 123.4l2.5 4.7h-5.1zM523.3 115.6l2.5 4.7h-5.1zM543.3 115.0l2.5 4.7h-5.1zM534.2 126.7l2.5 4.7h-5.1zM540.3 131.1l2.5 4.7h-5.1zM526.5 128.2l2.5 4.7h-5.1zM525.4 128.5l2.5 4.7h-5.1zM517.9 109.3l2.5 4.7h-5.1zM516.4 113.8l2.5 4.7h-5.1zM522.7 87.3l2.5 4.7h-5.1zM544.3 136.1l2.5 4.7h-5.1zM536.5 115.6l2.5 4.7h-5.1zM530.8 110.1l2.5 4.7h-5.1zM521.3 104.0l2.5 4.7h-5.1zM521.6 121.1l2.5 4.7h-5.1zM524.2 126.8l2.5 4.7h-5.1zM541.1 116.3l2.5 4.7h-5.1zM539.4 134.5l2.5 4.7h-5.1zM541.3 119.3l2.5 4.7h-5.1zM537.0 130.5l2.5 4.7h-5.1zM530.9 93.6l2.5 4.7h-5.1zM533.0 101.7l2.5 4.7h-5.1zM515.4 103.3l2.5 4.7h-5.1zM541.9 111.6l2.5 4.7h-5.1zM538.8 121.1l2.5 4.7h-5.1zM516.9 118.0l2.5 4.7h-5.1zM531.4 95.1l2.5 4.7h-5.1zM541.7 110.6l2.5 4.7h-5.1zM520.4 93.2l2.5 4.7h-5.1zM539.3 112.8l2.5 4.7h-5.1zM511.7 106.8l2.5 4.7h-5.1zM543.4 131.6l2.5 4.7h-5.1zM526.3 109.2l2.5 4.7h-5.1zM530.5 120.4l2.5 4.7h-5.1zM527.2 116.0l2.5 4.7h-5.1zM541.9 135.7l2.5 4.7h-5.1zM520.8 110.2l2.5 4.7h-5.1zM524.1 94.1l2.5 4.7h-5.1zM542.8 137.9l2.5 4.7h-5.1zM540.6 107.5l2.5 4.7h-5.1zM523.5 107.5l2.5 4.7h-5.1zM510.0 86.1l2.5 4.7h-5.1zM542.1 112.8l2.5 4.7h-5.1zM532.8 117.8l2.5 4.7h-5.1zM537.1 119.2l2.5 4.7h-5.1zM529.3 125.7l2.5 4.7h-5.1zM523.2 127.0l2.5 4.7h-5.1zM521.0 96.8l2.5 4.7h-5.1zM535.0 114.0l2.5 4.7h-5.1zM527.9 101.2l2.5 4.7h-5.1zM521.7 105.2l2.5 4.7h-5.1zM524.4 98.5l2.5 4.7h-5.1zM524.9 118.1l2.5 4.7h-5.1zM528.2 97.0l2.5 4.7h-5.1zM543.6 124.6l2.5 4.7h-5.1zM519.5 93.0l2.5 4.7h-5.1zM543.3 117.0l2.5 4.7h-5.1zM526.0 99.2l2.5 4.7h-5.1zM540.1 128.9l2.5 4.7h-5.1zM546.8 126.6l2.5 4.7h-5.1zM519.4 104.1l2.5 4.7h-5.1zM541.4 131.9l2.5 4.7h-5.1zM527.7 91.0l2.5 4.7h-5.1zM535.9 108.8l2.5 4.7h-5.1zM530.2 132.6l2.5 4.7h-5.1zM522.9 90.8l2.5 4.7h-5.1zM534.6 130.1l2.5 4.7h-5.1zM541.3 126.1l2.5 4.7h-5.1zM520.8 88.0l2.5 4.7h-5.1zM542.6 124.5l2.5 4.7h-5.1zM525.0 101.6l2.5 4.7h-5.1zM527.5 105.6l2.5 4.7h-5.1zM515.8 113.4l2.5 4.7h-5.1zM528.3 129.2l2.5 4.7h-5.1zM532.8 120.5l2.5 4.7h-5.1zM524.8 97.4l2.5 4.7h-5.1zM535.6 113.3l2.5 4.7h-5.1zM536.6 136.1l2.5 4.7h-5.1zM539.1 134.3l2.5 4.7h-5.1zM522.0 90.4l2.5 4.7h-5.1zM532.7 120.5l2.5 4.7h-5.1zM515.4 112.1l2.5 4.7h-5.1zM535.2 115.3l2.5 4.7h-5.1zM511.9 102.2l2.5 4.7h-5.1zM520.9 113.6l2.5 4.7h-5.1zM530.1 99.0l2.5 4.7h-5.1zM522.0 117.2l2.5 4.7h-5.1zM510.9 96.8l2.5 4.7h-5.1zM524.0 123.0l2.5 4.7h-5.1zM520.0 98.7l2.5 4.7h-5.1zM526.1 106.6l2.5 4.7h-5.1zM514.7 88.3l2.5 4.7h-5.1zM526.3 98.6l2.5 4.7h-5.1zM520.6 121.5l2.5 4.7h-5.1zM521.1 102.1l2.5 4.7h-5.1zM533.6 123.8l2.5 4.7h-5.1zM540.0 127.5l2.5 4.7h-5.1zM527.7 99.7l2.5 4.7h-5.1zM536.0 118.6l2.5 4.7h-5.1zM519.5 118.8l2.5 4.7h-5.1zM532.2 101.8l2.5 4.7h-5.1zM534.9 98.7l2.5 4.7h-5.1zM520.3 112.4l2.5 4.7h-5.1zM512.9 104.5l2.5 4.7h-5.1zM515.1 113.9l2.5 4.7h-5.1zM522.0 110.6l2.5 4.7h-5.1zM513.5 100.3l2.5 4.7h-5.1zM540.4 122.6l2.5 4.7h-5.1zM507.3 103.7l2.5 4.7h-5.1zM529.1 94.5l2.5 4.7h-5.1zM533.3 89.8l2.5 4.7h-5.1zM521.3 105.0l2.5 4.7h-5.1zM532.5 106.1l2.5 4.7h-5.1zM513.2 84.7l2.5 4.7h-5.1zM525.1 87.2l2.5 4.7h-5.1zM520.9 88.2l2.5 4.7h-5.1z" fill="#1818f4" stroke="#0000a0" stroke-width="0.25" clip-path="url(#clipc)"/>
<path d="M412.5 42.5L419.7 44.5L426.9 46.5L434.0 48.5L441.2 50.5L448.4 52.5L455.6 54.5L462.8 56.5L469.9 58.5L477.1 60.5L484.3 62.5L491.5 64.5L498.6 66.5L505.8 68.5L513.0 70.5M421.0 53.6L428.4 55.5L435.8 57.3L443.2 59.1L450.6 61.0L458.0 62.8L465.4 64.6L472.8 66.5L480.2 68.3L487.6 70.2L495.0 72.0L502.4 73.8L509.8 75.7L517.2 77.5L524.6 79.3M429.4 64.8L437.0 66.5L444.6 68.3L452.1 70.0L459.7 71.8L467.3 73.5L474.8 75.3L482.4 77.0L490.0 78.8L497.5 80.6L505.1 82.3L512.7 84.1L520.2 85.8L527.8 87.6L535.4 89.3M437.9 75.9L445.6 77.6L453.2 79.4L460.9 81.2L468.6 82.9L476.2 84.7L483.9 86.4L491.6 88.2L499.2 89.9L506.9 91.7L514.6 93.5L522.2 95.2L529.9 97.0L537.6 98.7L545.2 100.5M447.0 87.8L454.7 89.7L462.4 91.5L470.1 93.4L477.8 95.2L485.5 97.1L493.2 98.9L500.9 100.8L508.6 102.6L516.3 104.5L524.0 106.3L531.8 108.2L539.5 110.0L547.2 111.9L554.9 113.7M455.5 98.9L463.1 101.0L470.8 103.0L478.5 105.0L486.2 107.0L493.9 109.1L501.5 111.1L509.2 113.1L516.9 115.1L524.6 117.1L532.3 119.2L539.9 121.2L547.6 123.2L555.3 125.2L563.0 127.3M464.5 110.9L472.1 113.2L479.7 115.5L487.3 117.8L494.9 120.1L502.4 122.4L510.0 124.7L517.6 127.0L525.2 129.3L532.8 131.6L540.4 133.9L547.9 136.2L555.5 138.5L563.1 140.8L570.7 143.1M473.0 122.0L480.4 124.6L487.9 127.3L495.3 129.9L502.7 132.6L510.1 135.2L517.6 137.9L525.0 140.5L532.4 143.1L539.9 145.8L547.3 148.4L554.7 151.1L562.1 153.7L569.6 156.4L577.0 159.0" stroke="#0a0a0a" stroke-width="1.4" stroke-dasharray="10 3.5 1.5 3.5" fill="none" clip-path="url(#clipc)"/>
<path d="M412.5 42.5L416.8 48.2L421.1 53.9L425.5 59.5L429.8 65.2L434.1 70.9L438.4 76.6L442.8 82.2L447.1 87.9L451.4 93.6L455.7 99.3L460.0 105.0L464.4 110.6L468.7 116.3L473.0 122.0M452.7 53.7L457.7 58.9L462.6 64.1L467.4 69.5L472.2 75.0L476.8 80.7L481.4 86.4L485.9 92.3L490.2 98.3L494.5 104.4L498.7 110.6L502.8 117.0L506.8 123.5L510.8 130.1L514.6 136.8M484.9 62.7L490.4 67.4L495.8 72.3L501.0 77.5L506.1 82.9L511.0 88.5L515.7 94.3L520.3 100.3L524.8 106.6L529.0 113.1L533.1 119.7L537.0 126.6L540.8 133.8L544.4 141.1L547.9 148.6M513.0 70.5L519.0 74.9L524.8 79.5L530.4 84.5L535.8 89.8L540.9 95.3L545.8 101.2L550.5 107.4L555.0 113.8L559.2 120.6L563.2 127.7L567.0 135.1L570.6 142.7L573.9 150.7L577.0 159.0" stroke="#0a0a0a" stroke-width="1.4" stroke-dasharray="9 5" fill="none" clip-path="url(#clipc)"/>
<path d="M508.4 47.1l3.1 5.3h-6.3zM509.0 66.3l3.1 5.3h-6.3zM497.4 69.7l3.1 5.3h-6.3zM481.6 77.6l3.1 5.3h-6.3zM505.3 83.9l3.1 5.3h-6.3zM476.3 87.3l3.1 5.3h-6.3zM532.6 88.1l3.1 5.3h-6.3zM455.3 89.2l3.1 5.3h-6.3zM484.0 91.8l3.1 5.3h-6.3zM490.0 93.8l3.1 5.3h-6.3zM505.0 89.8l3.1 5.3h-6.3zM504.0 94.8l3.1 5.3h-6.3zM515.0 94.8l3.1 5.3h-6.3zM521.0 90.8l3.1 5.3h-6.3zM521.0 97.8l3.1 5.3h-6.3zM526.0 106.4l3.1 5.3h-6.3zM517.0 111.8l3.1 5.3h-6.3zM511.0 112.8l3.1 5.3h-6.3zM509.0 116.8l3.1 5.3h-6.3zM481.0 119.8l3.1 5.3h-6.3zM499.0 125.8l3.1 5.3h-6.3zM509.0 124.8l3.1 5.3h-6.3zM542.0 121.8l3.1 5.3h-6.3zM541.0 124.8l3.1 5.3h-6.3zM517.7 149.2l3.1 5.3h-6.3zM514.6 157.0l3.1 5.3h-6.3zM513.2 164.8l3.1 5.3h-6.3zM498.6 126.2l3.1 5.3h-6.3z" fill="#33d633" stroke="#0b2a0b" stroke-width="0.9" stroke-linejoin="miter" clip-path="url(#clipc)"/>
<path d="M440.8 151.8h16.4M449.0 138.6v26.4" stroke="#2a2aa8" stroke-width="1.8" fill="none"/>
<path d="M461.7 151.8h34.6M479.0 136.7v30.2" stroke="#3ee83e" stroke-width="1.8" fill="none"/>
<path d="M542.6 40.5L542.6 39.8" stroke="#9a3de0" stroke-width="1.1"/>
<path d="M542.6 31.3L546.5 39.8L538.7 39.8z" fill="#9a3de0" stroke="#9a3de0" stroke-width="1"/>
<path d="M542.6 40.5L572.9 52.0" stroke="#111" stroke-width="1"/>
<path d="M580.8 55.0L571.5 55.6L574.2 48.3z" fill="#fff" stroke="#111" stroke-width="1"/>
<path d="M542.6 40.5L561.1 64.1" stroke="#111" stroke-width="1"/>
<path d="M566.3 70.8L558.0 66.5L564.1 61.7z" fill="#000" stroke="#000" stroke-width="1"/>
<path d="M294.0 334.0L301.9 328.7L309.8 323.2L317.8 317.5L325.8 311.5L333.8 305.2L341.9 298.7L350.0 292.0L358.2 285.0L366.4 277.8L374.6 270.3L382.9 262.6L391.2 254.7L399.6 246.4L408.0 238.0M285.5 338.8L294.6 333.7L303.6 328.4L312.6 322.8L321.5 316.9L330.4 310.7L339.2 304.1L347.9 297.3L356.6 290.2L365.3 282.7L373.9 275.0L382.4 267.0L390.9 258.6L399.4 250.0L407.8 241.0M277.0 343.5L287.3 338.7L297.4 333.6L307.4 328.2L317.2 322.3L326.9 316.1L336.5 309.6L345.9 302.6L355.1 295.3L364.2 287.7L373.2 279.7L382.0 271.3L390.6 262.6L399.1 253.5L407.5 244.0M268.5 348.2L280.0 343.8L291.2 338.8L302.2 333.5L313.0 327.7L323.5 321.6L333.8 315.0L343.8 307.9L353.6 300.5L363.1 292.6L372.5 284.3L381.5 275.6L390.3 266.5L398.9 257.0L407.2 247.0M260.0 353.0L272.7 348.8L285.0 344.0L297.1 338.8L308.7 333.2L320.1 327.0L331.1 320.4L341.8 313.2L352.1 305.7L362.1 297.6L371.7 289.0L381.1 280.0L390.0 270.5L398.7 260.5L407.0 250.0" stroke="#44dd44" stroke-width="0.95" stroke-dasharray="9 3 1.5 3" fill="none" clip-path="url(#clipd)"/>
<path d="M294.0 334.0L291.6 335.4L289.1 336.7L286.7 338.1L284.3 339.4L281.9 340.8L279.4 342.1L277.0 343.5L274.6 344.9L272.1 346.2L269.7 347.6L267.3 348.9L264.9 350.3L262.4 351.6L260.0 353.0M408.0 238.0L407.9 238.9L407.9 239.7L407.8 240.6L407.7 241.4L407.6 242.3L407.6 243.1L407.5 244.0L407.4 244.9L407.4 245.7L407.3 246.6L407.2 247.4L407.1 248.3L407.1 249.1L407.0 250.0" stroke="#44dd44" stroke-width="0.95" stroke-dasharray="8 4" fill="none" clip-path="url(#clipd)"/>
<path d="M266.0 280.0L271.1 272.7L276.6 265.7L282.6 258.9L289.0 252.5L295.8 246.2L303.1 240.3L310.9 234.6L319.1 229.3L327.7 224.1L336.8 219.3L346.3 214.7L356.2 210.4L366.7 206.4L377.5 202.6M257.5 286.1L263.8 279.5L270.5 273.0L277.4 266.7L284.6 260.5L292.2 254.5L300.0 248.7L308.2 243.0L316.6 237.4L325.4 232.1L334.4 226.8L343.8 221.7L353.4 216.8L363.4 212.1L373.6 207.4M249.0 292.2L256.6 286.3L264.3 280.4L272.2 274.5L280.3 268.6L288.5 262.8L296.9 257.1L305.4 251.3L314.1 245.6L323.0 240.0L332.0 234.4L341.2 228.8L350.6 223.3L360.1 217.8L369.8 212.3M240.5 298.4L249.3 293.1L258.2 287.7L267.1 282.2L275.9 276.7L284.8 271.1L293.8 265.4L302.7 259.7L311.7 253.8L320.7 247.9L329.7 241.9L338.7 235.8L347.7 229.7L356.8 223.5L365.9 217.2M232.0 304.5L242.1 299.9L252.0 295.0L261.9 290.0L271.6 284.8L281.2 279.4L290.7 273.8L300.0 268.0L309.2 262.0L318.3 255.8L327.3 249.4L336.2 242.9L344.9 236.1L353.5 229.2L362.0 222.0" stroke="#3a3ad0" stroke-width="1.0" stroke-dasharray="8 3.5 1.5 3.5" fill="none" clip-path="url(#clipd)"/>
<path d="M266.0 280.0L263.6 281.8L261.1 283.5L258.7 285.2L256.3 287.0L253.9 288.8L251.4 290.5L249.0 292.2L246.6 294.0L244.1 295.8L241.7 297.5L239.3 299.2L236.9 301.0L234.4 302.8L232.0 304.5M377.5 202.6L376.4 204.0L375.3 205.4L374.2 206.8L373.1 208.1L372.0 209.5L370.9 210.9L369.8 212.3L368.6 213.7L367.5 215.1L366.4 216.5L365.3 217.8L364.2 219.2L363.1 220.6L362.0 222.0" stroke="#3a3ad0" stroke-width="1.0" stroke-dasharray="8 4" fill="none" clip-path="url(#clipd)"/>
<path d="M346.3 234.5l2.5 4.7h-5.1zM315.4 239.2l2.5 4.7h-5.1zM322.3 243.8l2.5 4.7h-5.1zM333.9 236.9l2.5 4.7h-5.1zM342.4 245.3l2.5 4.7h-5.1zM356.3 237.6l2.5 4.7h-5.1zM359.4 237.6l2.5 4.7h-5.1zM371.0 236.9l2.5 4.7h-5.1zM379.4 243.0l2.5 4.7h-5.1zM376.4 252.3l2.5 4.7h-5.1zM375.6 267.0l2.5 4.7h-5.1zM381.3 267.7l2.5 4.7h-5.1zM325.4 254.6l2.5 4.7h-5.1zM326.2 259.2l2.5 4.7h-5.1zM316.2 252.3l2.5 4.7h-5.1zM328.5 271.6l2.5 4.7h-5.1zM357.8 271.6l2.5 4.7h-5.1zM343.2 251.5l2.5 4.7h-5.1zM306.8 302.0l2.5 4.7h-5.1zM302.9 271.9l2.5 4.7h-5.1zM351.3 293.4l2.5 4.7h-5.1zM320.4 279.0l2.5 4.7h-5.1zM330.9 281.6l2.5 4.7h-5.1zM359.5 238.0l2.5 4.7h-5.1zM370.3 236.4l2.5 4.7h-5.1zM377.0 253.0l2.5 4.7h-5.1zM353.7 245.5l2.5 4.7h-5.1zM315.0 239.7l2.5 4.7h-5.1zM333.7 236.9l2.5 4.7h-5.1zM346.3 235.2l2.5 4.7h-5.1zM307.0 302.6l2.5 4.7h-5.1zM350.6 294.2l2.5 4.7h-5.1zM303.5 272.6l2.5 4.7h-5.1zM319.0 273.2l2.5 4.7h-5.1zM327.5 280.7l2.5 4.7h-5.1zM335.2 258.7l2.5 4.7h-5.1zM343.1 253.7l2.5 4.7h-5.1zM332.2 270.5l2.5 4.7h-5.1zM360.5 241.2l2.5 4.7h-5.1zM351.2 250.7l2.5 4.7h-5.1zM372.3 249.6l2.5 4.7h-5.1zM361.6 239.3l2.5 4.7h-5.1zM346.5 265.6l2.5 4.7h-5.1zM368.8 254.1l2.5 4.7h-5.1zM360.4 255.4l2.5 4.7h-5.1zM348.3 250.0l2.5 4.7h-5.1zM345.5 249.6l2.5 4.7h-5.1zM352.0 250.7l2.5 4.7h-5.1zM372.3 242.3l2.5 4.7h-5.1zM352.0 254.3l2.5 4.7h-5.1zM356.3 251.2l2.5 4.7h-5.1zM334.9 265.2l2.5 4.7h-5.1zM334.8 275.4l2.5 4.7h-5.1zM343.8 265.0l2.5 4.7h-5.1zM349.3 254.4l2.5 4.7h-5.1zM344.5 254.0l2.5 4.7h-5.1zM355.4 247.1l2.5 4.7h-5.1zM350.4 266.1l2.5 4.7h-5.1zM345.9 263.9l2.5 4.7h-5.1zM366.6 248.4l2.5 4.7h-5.1zM338.7 262.9l2.5 4.7h-5.1zM338.0 267.4l2.5 4.7h-5.1zM335.7 276.9l2.5 4.7h-5.1zM355.9 267.7l2.5 4.7h-5.1zM363.3 257.5l2.5 4.7h-5.1zM339.1 258.2l2.5 4.7h-5.1zM344.9 251.6l2.5 4.7h-5.1zM354.9 269.1l2.5 4.7h-5.1zM363.5 243.1l2.5 4.7h-5.1zM337.5 256.6l2.5 4.7h-5.1zM373.2 236.8l2.5 4.7h-5.1zM355.5 243.1l2.5 4.7h-5.1zM332.5 273.1l2.5 4.7h-5.1zM336.7 270.8l2.5 4.7h-5.1zM363.8 244.3l2.5 4.7h-5.1zM374.3 237.6l2.5 4.7h-5.1zM340.2 264.2l2.5 4.7h-5.1zM331.2 272.0l2.5 4.7h-5.1zM347.8 272.7l2.5 4.7h-5.1zM367.7 243.8l2.5 4.7h-5.1zM337.1 260.4l2.5 4.7h-5.1zM346.8 273.0l2.5 4.7h-5.1zM373.0 241.4l2.5 4.7h-5.1zM373.2 244.1l2.5 4.7h-5.1zM369.7 249.8l2.5 4.7h-5.1zM346.5 248.9l2.5 4.7h-5.1zM345.9 273.8l2.5 4.7h-5.1zM348.2 265.2l2.5 4.7h-5.1zM368.5 247.6l2.5 4.7h-5.1zM367.4 245.0l2.5 4.7h-5.1zM362.7 253.8l2.5 4.7h-5.1zM349.2 272.6l2.5 4.7h-5.1zM353.5 241.5l2.5 4.7h-5.1zM376.4 241.8l2.5 4.7h-5.1zM360.1 252.4l2.5 4.7h-5.1zM370.5 254.8l2.5 4.7h-5.1zM371.1 249.8l2.5 4.7h-5.1zM370.6 243.0l2.5 4.7h-5.1zM365.2 236.6l2.5 4.7h-5.1zM358.0 246.7l2.5 4.7h-5.1zM374.6 246.6l2.5 4.7h-5.1zM352.1 257.7l2.5 4.7h-5.1zM357.0 252.5l2.5 4.7h-5.1zM370.9 244.6l2.5 4.7h-5.1zM334.8 267.1l2.5 4.7h-5.1zM365.2 246.6l2.5 4.7h-5.1zM353.1 252.4l2.5 4.7h-5.1zM362.9 242.0l2.5 4.7h-5.1zM341.0 265.9l2.5 4.7h-5.1zM337.7 272.8l2.5 4.7h-5.1zM370.3 242.0l2.5 4.7h-5.1zM355.6 265.2l2.5 4.7h-5.1zM365.3 236.4l2.5 4.7h-5.1zM349.4 269.7l2.5 4.7h-5.1zM354.2 264.6l2.5 4.7h-5.1zM361.1 263.4l2.5 4.7h-5.1zM354.3 257.7l2.5 4.7h-5.1zM343.8 259.0l2.5 4.7h-5.1zM333.2 259.6l2.5 4.7h-5.1zM351.8 254.6l2.5 4.7h-5.1zM347.7 265.1l2.5 4.7h-5.1zM337.8 262.4l2.5 4.7h-5.1zM348.4 257.0l2.5 4.7h-5.1zM352.5 268.4l2.5 4.7h-5.1zM342.5 268.7l2.5 4.7h-5.1zM364.6 248.7l2.5 4.7h-5.1zM346.5 249.1l2.5 4.7h-5.1zM344.3 272.7l2.5 4.7h-5.1zM332.6 266.9l2.5 4.7h-5.1zM345.8 271.0l2.5 4.7h-5.1zM354.8 244.6l2.5 4.7h-5.1zM347.4 258.6l2.5 4.7h-5.1zM353.1 248.2l2.5 4.7h-5.1zM349.5 253.1l2.5 4.7h-5.1zM356.4 255.2l2.5 4.7h-5.1zM354.0 250.2l2.5 4.7h-5.1zM359.1 248.2l2.5 4.7h-5.1zM344.6 255.5l2.5 4.7h-5.1zM349.1 254.4l2.5 4.7h-5.1zM334.7 272.2l2.5 4.7h-5.1zM357.6 261.8l2.5 4.7h-5.1zM348.5 261.9l2.5 4.7h-5.1zM353.8 254.6l2.5 4.7h-5.1zM368.1 244.0l2.5 4.7h-5.1zM357.2 241.0l2.5 4.7h-5.1zM357.1 251.8l2.5 4.7h-5.1zM342.9 255.1l2.5 4.7h-5.1zM333.0 256.3l2.5 4.7h-5.1zM353.5 236.3l2.5 4.7h-5.1zM361.7 257.6l2.5 4.7h-5.1zM345.3 247.9l2.5 4.7h-5.1zM339.5 251.9l2.5 4.7h-5.1zM345.3 273.2l2.5 4.7h-5.1zM341.9 264.9l2.5 4.7h-5.1zM363.2 243.7l2.5 4.7h-5.1zM337.9 251.5l2.5 4.7h-5.1zM334.8 255.5l2.5 4.7h-5.1zM357.1 243.1l2.5 4.7h-5.1zM333.4 252.1l2.5 4.7h-5.1zM342.7 242.3l2.5 4.7h-5.1zM338.9 247.9l2.5 4.7h-5.1zM344.0 252.8l2.5 4.7h-5.1zM336.1 240.6l2.5 4.7h-5.1zM327.1 260.7l2.5 4.7h-5.1zM336.7 245.6l2.5 4.7h-5.1zM381.2 271.9l2.5 4.7h-5.1zM379.7 264.1l2.5 4.7h-5.1zM359.2 262.0l2.5 4.7h-5.1zM368.5 267.7l2.5 4.7h-5.1zM366.8 278.7l2.5 4.7h-5.1zM373.5 258.7l2.5 4.7h-5.1zM367.1 268.7l2.5 4.7h-5.1zM358.8 279.1l2.5 4.7h-5.1zM370.4 274.3l2.5 4.7h-5.1zM360.3 258.3l2.5 4.7h-5.1z" fill="#1818f4" stroke="#0000a0" stroke-width="0.25" clip-path="url(#clipd)"/>
<path d="M247.0 333.0L255.2 328.0L263.6 322.5L272.4 316.7L281.4 310.6L290.8 304.0L300.5 297.1L310.5 289.8L320.8 282.1L331.4 274.0L342.3 265.6L353.5 256.7L365.0 247.5L376.9 238.0L389.0 228.0M247.0 334.2L255.8 329.9L264.9 325.1L274.3 319.7L283.9 313.9L293.8 307.6L303.9 300.7L314.2 293.4L324.9 285.6L335.8 277.3L346.9 268.6L358.3 259.3L369.9 249.5L381.8 239.3L394.0 228.5M247.0 335.5L256.5 331.8L266.3 327.6L276.2 322.7L286.3 317.2L296.7 311.1L307.2 304.4L318.0 297.1L329.0 289.2L340.1 280.7L351.5 271.6L363.1 261.8L374.8 251.5L386.8 240.6L399.0 229.0" stroke="#0a0a0a" stroke-width="1.7" stroke-dasharray="9 4 1.5 4" fill="none" clip-path="url(#clipd)"/>
<path d="M389.0 228.0L389.7 228.1L390.4 228.1L391.1 228.2L391.9 228.3L392.6 228.4L393.3 228.4L394.0 228.5L394.7 228.6L395.4 228.6L396.1 228.7L396.9 228.8L397.6 228.9L398.3 228.9L399.0 229.0" stroke="#0a0a0a" stroke-width="1.7" stroke-dasharray="8 4" fill="none" clip-path="url(#clipd)"/>
<path d="M246.7 334.6L255.7 330.0L287.1 313.0L315.9 294.7L342.1 276.3L370.7 251.1L397.3 225.6" stroke="#111" stroke-width="2.0" fill="none" stroke-linejoin="round" clip-path="url(#clipd)"/>
<path d="M246.0 333.5L255.0 328.9L286.4 311.9L315.2 293.6L341.4 275.2L370.0 250.0L396.6 224.5" stroke="#8a2be0" stroke-width="1.8" fill="none" stroke-linejoin="round" clip-path="url(#clipd)"/>
<path d="M345.5 224.1l3.1 5.3h-6.3zM323.6 229.5l3.1 5.3h-6.3zM335.9 230.8l3.1 5.3h-6.3zM325.4 246.5l3.1 5.3h-6.3zM310.8 244.9l3.1 5.3h-6.3zM314.3 256.5l3.1 5.3h-6.3zM317.7 259.6l3.1 5.3h-6.3zM312.3 265.0l3.1 5.3h-6.3zM325.4 265.8l3.1 5.3h-6.3zM338.5 263.5l3.1 5.3h-6.3zM345.5 260.4l3.1 5.3h-6.3zM333.9 268.1l3.1 5.3h-6.3zM367.9 251.1l3.1 5.3h-6.3zM360.2 275.0l3.1 5.3h-6.3zM359.4 279.7l3.1 5.3h-6.3zM347.0 280.4l3.1 5.3h-6.3zM354.0 284.3l3.1 5.3h-6.3zM343.2 271.2l3.1 5.3h-6.3zM285.3 271.8l3.1 5.3h-6.3zM299.0 320.5l3.1 5.3h-6.3zM329.1 306.8l3.1 5.3h-6.3zM337.5 316.5l3.1 5.3h-6.3zM346.6 309.5l3.1 5.3h-6.3zM361.0 327.8l3.1 5.3h-6.3zM313.9 287.8l3.1 5.3h-6.3zM336.2 286.4l3.1 5.3h-6.3zM346.6 281.2l3.1 5.3h-6.3zM359.2 278.6l3.1 5.3h-6.3zM325.7 266.8l3.1 5.3h-6.3zM333.5 268.1l3.1 5.3h-6.3zM367.8 251.8l3.1 5.3h-6.3z" fill="#33d633" stroke="#0b2a0b" stroke-width="0.9" stroke-linejoin="miter" clip-path="url(#clipd)"/>
<path d="M339.2 342.0h12.6M345.5 334.5v15.0" stroke="#2a2aa8" stroke-width="1.8" fill="none"/>
<path d="M360.5 342.0h43.0M382.0 324.2v35.6" stroke="#3ee83e" stroke-width="2.0" fill="none"/>
<path d="M246.9 249.7L265.7 269.1" stroke="#9a3de0" stroke-width="1.1"/>
<path d="M271.6 275.2L262.9 271.8L268.5 266.4z" fill="#9a3de0" stroke="#9a3de0" stroke-width="1"/>
<path d="M246.9 249.7L273.3 227.8" stroke="#111" stroke-width="1"/>
<path d="M279.8 222.4L275.7 230.8L270.8 224.8z" fill="#fff" stroke="#111" stroke-width="1"/>
<path d="M246.9 249.7L265.1 240.4" stroke="#111" stroke-width="1"/>
<path d="M272.7 236.6L266.9 243.9L263.4 237.0z" fill="#000" stroke="#000" stroke-width="1"/>
<rect x="44.8" y="5.5" width="187.00" height="183.00" fill="none" stroke="#3a3a3a" stroke-width="1.35"/>
<rect x="231.8" y="5.5" width="180.00" height="183.00" fill="none" stroke="#3a3a3a" stroke-width="1.35"/>
<rect x="411.8" y="5.5" width="186.40" height="183.00" fill="none" stroke="#3a3a3a" stroke-width="1.35"/>
<rect x="231.8" y="188.5" width="180.00" height="183.50" fill="none" stroke="#3a3a3a" stroke-width="1.35"/>
<path d="M60.38 188.50v-4.5M60.38 5.50v4.5M75.97 188.50v-9M75.97 5.50v9M91.55 188.50v-4.5M91.55 5.50v4.5M107.13 188.50v-4.5M107.13 5.50v4.5M122.72 188.50v-4.5M122.72 5.50v4.5M138.30 188.50v-9M138.30 5.50v9M153.88 188.50v-4.5M153.88 5.50v4.5M169.47 188.50v-4.5M169.47 5.50v4.5M185.05 188.50v-4.5M185.05 5.50v4.5M200.63 188.50v-9M200.63 5.50v9M216.22 188.50v-4.5M216.22 5.50v4.5M44.80 181.18h3.4M231.80 181.18h-3.4M44.80 173.86h3.4M231.80 173.86h-3.4M44.80 166.54h3.4M231.80 166.54h-3.4M44.80 159.22h3.4M231.80 159.22h-3.4M44.80 151.90h6.5M231.80 151.90h-6.5M44.80 144.58h3.4M231.80 144.58h-3.4M44.80 137.26h3.4M231.80 137.26h-3.4M44.80 129.94h3.4M231.80 129.94h-3.4M44.80 122.62h3.4M231.80 122.62h-3.4M44.80 115.30h6.5M231.80 115.30h-6.5M44.80 107.98h3.4M231.80 107.98h-3.4M44.80 100.66h3.4M231.80 100.66h-3.4M44.80 93.34h3.4M231.80 93.34h-3.4M44.80 86.02h3.4M231.80 86.02h-3.4M44.80 78.70h6.5M231.80 78.70h-6.5M44.80 71.38h3.4M231.80 71.38h-3.4M44.80 64.06h3.4M231.80 64.06h-3.4M44.80 56.74h3.4M231.80 56.74h-3.4M44.80 49.42h3.4M231.80 49.42h-3.4M44.80 42.10h6.5M231.80 42.10h-6.5M44.80 34.78h3.4M231.80 34.78h-3.4M44.80 27.46h3.4M231.80 27.46h-3.4M44.80 20.14h3.4M231.80 20.14h-3.4M44.80 12.82h3.4M231.80 12.82h-3.4" stroke="#3a3a3a" stroke-width="1.2" fill="none"/>
<path d="M246.80 188.50v-4.5M246.80 5.50v4.5M261.80 188.50v-4.5M261.80 5.50v4.5M276.80 188.50v-9M276.80 5.50v9M291.80 188.50v-4.5M291.80 5.50v4.5M306.80 188.50v-4.5M306.80 5.50v4.5M321.80 188.50v-4.5M321.80 5.50v4.5M336.80 188.50v-9M336.80 5.50v9M351.80 188.50v-4.5M351.80 5.50v4.5M366.80 188.50v-4.5M366.80 5.50v4.5M381.80 188.50v-4.5M381.80 5.50v4.5M396.80 188.50v-9M396.80 5.50v9M231.80 181.18h3.4M411.80 181.18h-3.4M231.80 173.86h3.4M411.80 173.86h-3.4M231.80 166.54h3.4M411.80 166.54h-3.4M231.80 159.22h3.4M411.80 159.22h-3.4M231.80 151.90h6.5M411.80 151.90h-6.5M231.80 144.58h3.4M411.80 144.58h-3.4M231.80 137.26h3.4M411.80 137.26h-3.4M231.80 129.94h3.4M411.80 129.94h-3.4M231.80 122.62h3.4M411.80 122.62h-3.4M231.80 115.30h6.5M411.80 115.30h-6.5M231.80 107.98h3.4M411.80 107.98h-3.4M231.80 100.66h3.4M411.80 100.66h-3.4M231.80 93.34h3.4M411.80 93.34h-3.4M231.80 86.02h3.4M411.80 86.02h-3.4M231.80 78.70h6.5M411.80 78.70h-6.5M231.80 71.38h3.4M411.80 71.38h-3.4M231.80 64.06h3.4M411.80 64.06h-3.4M231.80 56.74h3.4M411.80 56.74h-3.4M231.80 49.42h3.4M411.80 49.42h-3.4M231.80 42.10h6.5M411.80 42.10h-6.5M231.80 34.78h3.4M411.80 34.78h-3.4M231.80 27.46h3.4M411.80 27.46h-3.4M231.80 20.14h3.4M411.80 20.14h-3.4M231.80 12.82h3.4M411.80 12.82h-3.4" stroke="#3a3a3a" stroke-width="1.2" fill="none"/>
<path d="M415.53 188.50v-4.5M415.53 5.50v4.5M422.98 188.50v-4.5M422.98 5.50v4.5M430.44 188.50v-9M430.44 5.50v9M437.90 188.50v-4.5M437.90 5.50v4.5M445.35 188.50v-4.5M445.35 5.50v4.5M452.81 188.50v-4.5M452.81 5.50v4.5M460.26 188.50v-4.5M460.26 5.50v4.5M467.72 188.50v-9M467.72 5.50v9M475.18 188.50v-4.5M475.18 5.50v4.5M482.63 188.50v-4.5M482.63 5.50v4.5M490.09 188.50v-4.5M490.09 5.50v4.5M497.54 188.50v-4.5M497.54 5.50v4.5M505.00 188.50v-9M505.00 5.50v9M512.46 188.50v-4.5M512.46 5.50v4.5M519.91 188.50v-4.5M519.91 5.50v4.5M527.37 188.50v-4.5M527.37 5.50v4.5M534.82 188.50v-4.5M534.82 5.50v4.5M542.28 188.50v-9M542.28 5.50v9M549.74 188.50v-4.5M549.74 5.50v4.5M557.19 188.50v-4.5M557.19 5.50v4.5M564.65 188.50v-4.5M564.65 5.50v4.5M572.10 188.50v-4.5M572.10 5.50v4.5M579.56 188.50v-9M579.56 5.50v9M587.02 188.50v-4.5M587.02 5.50v4.5M594.47 188.50v-4.5M594.47 5.50v4.5M411.80 181.18h3.4M598.20 181.18h-3.4M411.80 173.86h3.4M598.20 173.86h-3.4M411.80 166.54h3.4M598.20 166.54h-3.4M411.80 159.22h3.4M598.20 159.22h-3.4M411.80 151.90h6.5M598.20 151.90h-6.5M411.80 144.58h3.4M598.20 144.58h-3.4M411.80 137.26h3.4M598.20 137.26h-3.4M411.80 129.94h3.4M598.20 129.94h-3.4M411.80 122.62h3.4M598.20 122.62h-3.4M411.80 115.30h6.5M598.20 115.30h-6.5M411.80 107.98h3.4M598.20 107.98h-3.4M411.80 100.66h3.4M598.20 100.66h-3.4M411.80 93.34h3.4M598.20 93.34h-3.4M411.80 86.02h3.4M598.20 86.02h-3.4M411.80 78.70h6.5M598.20 78.70h-6.5M411.80 71.38h3.4M598.20 71.38h-3.4M411.80 64.06h3.4M598.20 64.06h-3.4M411.80 56.74h3.4M598.20 56.74h-3.4M411.80 49.42h3.4M598.20 49.42h-3.4M411.80 42.10h6.5M598.20 42.10h-6.5M411.80 34.78h3.4M598.20 34.78h-3.4M411.80 27.46h3.4M598.20 27.46h-3.4M411.80 20.14h3.4M598.20 20.14h-3.4M411.80 12.82h3.4M598.20 12.82h-3.4" stroke="#3a3a3a" stroke-width="1.2" fill="none"/>
<path d="M246.80 372.00v-4.5M246.80 188.50v4.5M261.80 372.00v-4.5M261.80 188.50v4.5M276.80 372.00v-9M276.80 188.50v9M291.80 372.00v-4.5M291.80 188.50v4.5M306.80 372.00v-4.5M306.80 188.50v4.5M321.80 372.00v-4.5M321.80 188.50v4.5M336.80 372.00v-9M336.80 188.50v9M351.80 372.00v-4.5M351.80 188.50v4.5M366.80 372.00v-4.5M366.80 188.50v4.5M381.80 372.00v-4.5M381.80 188.50v4.5M396.80 372.00v-9M396.80 188.50v9M231.80 356.71h3.4M411.80 356.71h-3.4M231.80 341.42h6.5M411.80 341.42h-6.5M231.80 326.12h3.4M411.80 326.12h-3.4M231.80 310.83h3.4M411.80 310.83h-3.4M231.80 295.54h3.4M411.80 295.54h-3.4M231.80 280.25h6.5M411.80 280.25h-6.5M231.80 264.96h3.4M411.80 264.96h-3.4M231.80 249.67h3.4M411.80 249.67h-3.4M231.80 234.37h3.4M411.80 234.37h-3.4M231.80 219.08h6.5M411.80 219.08h-6.5M231.80 203.79h3.4M411.80 203.79h-3.4" stroke="#3a3a3a" stroke-width="1.2" fill="none"/>
<text x="35.50" y="193.10" text-anchor="end" style="font-family:&quot;Liberation Serif&quot;,serif;font-size:14px;letter-spacing:1.1px;fill:#1a1a1a">0.1</text>
<text x="35.50" y="156.50" text-anchor="end" style="font-family:&quot;Liberation Serif&quot;,serif;font-size:14px;letter-spacing:1.1px;fill:#1a1a1a">0.2</text>
<text x="35.50" y="119.90" text-anchor="end" style="font-family:&quot;Liberation Serif&quot;,serif;font-size:14px;letter-spacing:1.1px;fill:#1a1a1a">0.3</text>
<text x="35.50" y="83.30" text-anchor="end" style="font-family:&quot;Liberation Serif&quot;,serif;font-size:14px;letter-spacing:1.1px;fill:#1a1a1a">0.4</text>
<text x="35.50" y="46.70" text-anchor="end" style="font-family:&quot;Liberation Serif&quot;,serif;font-size:14px;letter-spacing:1.1px;fill:#1a1a1a">0.5</text>
<text x="35.50" y="10.10" text-anchor="end" style="font-family:&quot;Liberation Serif&quot;,serif;font-size:14px;letter-spacing:1.1px;fill:#1a1a1a">0.6</text>
<text x="76.37" y="209.30" text-anchor="middle" style="font-family:&quot;Liberation Serif&quot;,serif;font-size:14px;letter-spacing:1.1px;fill:#1a1a1a">0.2</text>
<text x="138.70" y="209.30" text-anchor="middle" style="font-family:&quot;Liberation Serif&quot;,serif;font-size:14px;letter-spacing:1.1px;fill:#1a1a1a">0.4</text>
<text x="201.03" y="209.30" text-anchor="middle" style="font-family:&quot;Liberation Serif&quot;,serif;font-size:14px;letter-spacing:1.1px;fill:#1a1a1a">0.6</text>
<text x="430.84" y="209.30" text-anchor="middle" style="font-family:&quot;Liberation Serif&quot;,serif;font-size:14px;letter-spacing:1.1px;fill:#1a1a1a">0.3</text>
<text x="468.12" y="209.30" text-anchor="middle" style="font-family:&quot;Liberation Serif&quot;,serif;font-size:14px;letter-spacing:1.1px;fill:#1a1a1a">0.4</text>
<text x="505.40" y="209.30" text-anchor="middle" style="font-family:&quot;Liberation Serif&quot;,serif;font-size:14px;letter-spacing:1.1px;fill:#1a1a1a">0.5</text>
<text x="542.68" y="209.30" text-anchor="middle" style="font-family:&quot;Liberation Serif&quot;,serif;font-size:14px;letter-spacing:1.1px;fill:#1a1a1a">0.6</text>
<text x="579.96" y="209.30" text-anchor="middle" style="font-family:&quot;Liberation Serif&quot;,serif;font-size:14px;letter-spacing:1.1px;fill:#1a1a1a">0.7</text>
<text x="223.50" y="346.02" text-anchor="end" style="font-family:&quot;Liberation Serif&quot;,serif;font-size:14px;letter-spacing:1.1px;fill:#1a1a1a">0.2</text>
<text x="223.50" y="284.85" text-anchor="end" style="font-family:&quot;Liberation Serif&quot;,serif;font-size:14px;letter-spacing:1.1px;fill:#1a1a1a">0.4</text>
<text x="223.50" y="223.68" text-anchor="end" style="font-family:&quot;Liberation Serif&quot;,serif;font-size:14px;letter-spacing:1.1px;fill:#1a1a1a">0.6</text>
<text x="277.20" y="392.60" text-anchor="middle" style="font-family:&quot;Liberation Serif&quot;,serif;font-size:14px;letter-spacing:1.1px;fill:#1a1a1a">0.4</text>
<text x="337.20" y="392.60" text-anchor="middle" style="font-family:&quot;Liberation Serif&quot;,serif;font-size:14px;letter-spacing:1.1px;fill:#1a1a1a">0.6</text>
<text x="397.20" y="392.60" text-anchor="middle" style="font-family:&quot;Liberation Serif&quot;,serif;font-size:14px;letter-spacing:1.1px;fill:#1a1a1a">0.8</text>
<text x="105.6" y="234.2" style="font-family:&quot;Liberation Serif&quot;,serif;font-size:14.5px;letter-spacing:0.8px;fill:#1a1a1a">log</text>
<text x="135.4" y="234.2" style="font-family:&quot;Liberation Serif&quot;,serif;font-size:14.5px;letter-spacing:0.8px;fill:#1a1a1a">&lt;Fe&gt;</text>
<text x="466.6" y="235" style="font-family:&quot;Liberation Serif&quot;,serif;font-size:14.5px;letter-spacing:0.8px;fill:#1a1a1a">log</text>
<text x="495.8" y="235" style="font-family:&quot;Liberation Serif&quot;,serif;font-size:14.5px;letter-spacing:0.8px;fill:#1a1a1a">[MgFe]</text>
<text x="288.4" y="417.7" style="font-family:&quot;Liberation Serif&quot;,serif;font-size:14.5px;letter-spacing:0.8px;fill:#1a1a1a">log</text>
<text x="317.8" y="417.7" style="font-family:&quot;Liberation Serif&quot;,serif;font-size:14.5px;letter-spacing:0.8px;fill:#1a1a1a">Mgb</text>
<g transform="translate(199.3,312.7) rotate(-90)"><text x="0" y="0" style="font-family:&quot;Liberation Serif&quot;,serif;font-size:14.5px;letter-spacing:0.8px;fill:#1a1a1a">log</text><text x="29.8" y="0" style="font-family:&quot;Liberation Serif&quot;,serif;font-size:14.5px;letter-spacing:0.8px;fill:#1a1a1a">&lt;Fe&gt;</text></g>
<g transform="translate(10.1,128.4) rotate(-90)"><text x="0" y="0" style="font-family:&quot;Liberation Serif&quot;,serif;font-size:14.5px;letter-spacing:0.8px;fill:#1a1a1a">log</text><text x="30.3" y="0" style="font-family:&quot;Liberation Serif&quot;,serif;font-size:14.5px;letter-spacing:0.8px;fill:#1a1a1a;font-size:15px">H</text><text x="40.4" y="0" style="font-family:&quot;Liberation Serif&quot;,serif;font-size:14.5px;letter-spacing:0.8px;fill:#1a1a1a;font-style:italic">β</text><text x="49.6" y="2.2" style="font-family:&quot;Liberation Serif&quot;,serif;font-size:14.5px;letter-spacing:0.8px;fill:#1a1a1a;font-size:8.5px">G</text></g>
<text x="192.2" y="32.6" style="font-family:&quot;Liberation Serif&quot;,serif;font-size:19px;letter-spacing:1.4px;fill:#111">(a)</text>
<text x="236.3" y="32.0" style="font-family:&quot;Liberation Serif&quot;,serif;font-size:19px;letter-spacing:1.4px;fill:#111">(b)</text>
<text x="559.4" y="32.4" style="font-family:&quot;Liberation Serif&quot;,serif;font-size:19px;letter-spacing:1.4px;fill:#111">(c)</text>
<text x="236.0" y="215.6" style="font-family:&quot;Liberation Serif&quot;,serif;font-size:19px;letter-spacing:1.4px;fill:#111">(d)</text>
</svg>
</body></html>
